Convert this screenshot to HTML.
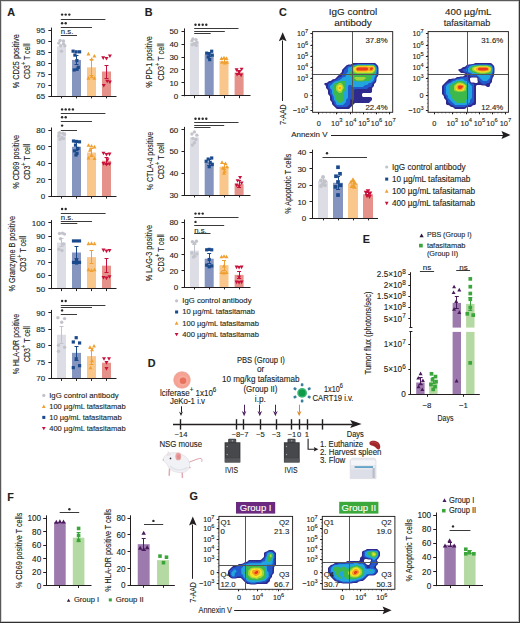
<!DOCTYPE html>
<html><head><meta charset="utf-8"><title>Figure</title>
<style>html,body{margin:0;padding:0;background:#fff;}body{width:520px;height:623px;overflow:hidden;font-family:"Liberation Sans",sans-serif;}svg{display:block;}</style>
</head><body>
<svg width="520" height="623" viewBox="0 0 520 623" font-family="'Liberation Sans', sans-serif" fill="#231f20"><style>text{stroke:#231f20;stroke-width:0.12}</style><rect x="0" y="0" width="520" height="623" fill="#fff"/><text x="7.2" y="16.19" font-size="10.8" font-weight="bold">A</text><text x="144.8" y="15.79" font-size="10.8" font-weight="bold">B</text><text x="279" y="16.09" font-size="10.8" font-weight="bold">C</text><text x="362.8" y="242.99" font-size="10.8" font-weight="bold">E</text><text x="147.8" y="366.89" font-size="10.8" font-weight="bold">D</text><text x="7.3" y="500.89" font-size="10.8" font-weight="bold">F</text><text x="189.4" y="499.89" font-size="10.8" font-weight="bold">G</text><rect x="57" y="46.36" width="9" height="49.64" fill="#dcdde5" /><rect x="72" y="59.92" width="9" height="36.08" fill="#8595bf" /><rect x="87" y="67.35" width="9" height="28.65" fill="#f9c78c" /><rect x="102" y="71.51" width="9" height="24.49" fill="#e5928a" /><circle cx="60.1" cy="40.46" r="1.7" fill="#c2c3cb"/><circle cx="63.5" cy="40.9" r="1.7" fill="#c2c3cb"/><circle cx="58.7" cy="43.08" r="1.7" fill="#c2c3cb"/><circle cx="63.5" cy="43.74" r="1.7" fill="#c2c3cb"/><circle cx="60.8" cy="45.71" r="1.7" fill="#c2c3cb"/><circle cx="64.8" cy="45.71" r="1.7" fill="#c2c3cb"/><circle cx="61.5" cy="51.17" r="1.7" fill="#c2c3cb"/><line x1="76.5" y1="55.33" x2="76.5" y2="64.73" stroke="#1b4a8c" stroke-width="1" /><line x1="74.5" y1="55.5" x2="78.5" y2="55.5" stroke="#1b4a8c" stroke-width="1" /><line x1="74.5" y1="64.5" x2="78.5" y2="64.5" stroke="#1b4a8c" stroke-width="1" /><rect x="71.5" y="49.57" width="3.2" height="3.2" fill="#1b4a8c" /><rect x="74.6" y="50.23" width="3.2" height="3.2" fill="#1b4a8c" /><rect x="78" y="50.23" width="3.2" height="3.2" fill="#1b4a8c" /><rect x="73.3" y="53.51" width="3.2" height="3.2" fill="#1b4a8c" /><rect x="75.3" y="58.98" width="3.2" height="3.2" fill="#1b4a8c" /><rect x="76.7" y="65.75" width="3.2" height="3.2" fill="#1b4a8c" /><rect x="72.6" y="68.38" width="3.2" height="3.2" fill="#1b4a8c" /><rect x="75.5" y="67.72" width="3.2" height="3.2" fill="#1b4a8c" /><line x1="91.5" y1="59.92" x2="91.5" y2="75.01" stroke="#f0a030" stroke-width="1" /><line x1="89.5" y1="59.5" x2="93.5" y2="59.5" stroke="#f0a030" stroke-width="1" /><line x1="89.5" y1="75.5" x2="93.5" y2="75.5" stroke="#f0a030" stroke-width="1" /><path d="M88.4 51.8L90.4 55.4L86.4 55.4Z" fill="#f0a030"/><path d="M94.4 53.98L96.4 57.58L92.4 57.58Z" fill="#f0a030"/><path d="M91.7 57.26L93.7 60.86L89.7 60.86Z" fill="#f0a030"/><path d="M88.4 76.07L90.4 79.67L86.4 79.67Z" fill="#f0a030"/><path d="M91.7 74.76L93.7 78.36L89.7 78.36Z" fill="#f0a030"/><path d="M94.4 76.07L96.4 79.67L92.4 79.67Z" fill="#f0a030"/><line x1="106.5" y1="65.39" x2="106.5" y2="78.07" stroke="#c8103c" stroke-width="1" /><line x1="104.5" y1="65.5" x2="108.5" y2="65.5" stroke="#c8103c" stroke-width="1" /><line x1="104.5" y1="78.5" x2="108.5" y2="78.5" stroke="#c8103c" stroke-width="1" /><path d="M103.2 59.95L105.2 56.35L101.2 56.35Z" fill="#c8103c"/><path d="M106.5 60.61L108.5 57.01L104.5 57.01Z" fill="#c8103c"/><path d="M109.9 57.98L111.9 54.38L107.9 54.38Z" fill="#c8103c"/><path d="M103.8 87.5L105.8 83.9L101.8 83.9Z" fill="#c8103c"/><path d="M107.2 83.35L109.2 79.75L105.2 79.75Z" fill="#c8103c"/><path d="M109.9 84.01L111.9 80.41L107.9 80.41Z" fill="#c8103c"/><line x1="51.5" y1="27.6" x2="51.5" y2="96.45" stroke="#231f20" stroke-width="1" /><line x1="50.9" y1="96.5" x2="116.5" y2="96.5" stroke="#231f20" stroke-width="1" /><line x1="48.35" y1="96.5" x2="51.35" y2="96.5" stroke="#231f20" stroke-width="1" /><text x="45.15" y="98.88" font-size="8" text-anchor="end">65</text><line x1="48.35" y1="85.5" x2="51.35" y2="85.5" stroke="#231f20" stroke-width="1" /><text x="45.15" y="87.95" font-size="8" text-anchor="end">70</text><line x1="48.35" y1="74.5" x2="51.35" y2="74.5" stroke="#231f20" stroke-width="1" /><text x="45.15" y="77.01" font-size="8" text-anchor="end">75</text><line x1="48.35" y1="63.5" x2="51.35" y2="63.5" stroke="#231f20" stroke-width="1" /><text x="45.15" y="66.08" font-size="8" text-anchor="end">80</text><line x1="48.35" y1="52.5" x2="51.35" y2="52.5" stroke="#231f20" stroke-width="1" /><text x="45.15" y="55.15" font-size="8" text-anchor="end">85</text><line x1="48.35" y1="41.5" x2="51.35" y2="41.5" stroke="#231f20" stroke-width="1" /><text x="45.15" y="44.21" font-size="8" text-anchor="end">90</text><line x1="48.35" y1="30.5" x2="51.35" y2="30.5" stroke="#231f20" stroke-width="1" /><text x="45.15" y="33.28" font-size="8" text-anchor="end">95</text><line x1="61.5" y1="96" x2="61.5" y2="98.4" stroke="#231f20" stroke-width="1" /><line x1="76.5" y1="96" x2="76.5" y2="98.4" stroke="#231f20" stroke-width="1" /><line x1="91.5" y1="96" x2="91.5" y2="98.4" stroke="#231f20" stroke-width="1" /><line x1="106.5" y1="96" x2="106.5" y2="98.4" stroke="#231f20" stroke-width="1" /><line x1="60.8" y1="19.5" x2="105.4" y2="19.5" stroke="#3a3a3a" stroke-width="1" /><circle cx="62.1" cy="14.6" r="1.2" fill="#2a2a2a"/><circle cx="65.7" cy="14.6" r="1.2" fill="#2a2a2a"/><circle cx="69.3" cy="14.6" r="1.2" fill="#2a2a2a"/><line x1="60.8" y1="27.5" x2="92" y2="27.5" stroke="#3a3a3a" stroke-width="1" /><circle cx="62.1" cy="23.2" r="1.2" fill="#2a2a2a"/><circle cx="65.7" cy="23.2" r="1.2" fill="#2a2a2a"/><line x1="60.8" y1="35.5" x2="77" y2="35.5" stroke="#3a3a3a" stroke-width="1" /><text x="60.8" y="33.85" font-size="7.8">n.s.</text><text transform="translate(16.2 61.3) rotate(-90)" x="0" y="2.3" font-size="8.2" text-anchor="middle" textLength="54" lengthAdjust="spacingAndGlyphs">% CD25 positive</text><text transform="translate(27.3 61.3) rotate(-90)" x="0" y="2.3" font-size="8.2" text-anchor="middle" textLength="35.5" lengthAdjust="spacingAndGlyphs">CD3<tspan dy="-3.44" font-size="6.4">+</tspan><tspan dy="3.44"> T cell</tspan></text><rect x="57" y="131.95" width="9" height="64.25" fill="#dcdde5" /><rect x="72" y="146.78" width="9" height="49.42" fill="#8595bf" /><rect x="87" y="152.54" width="9" height="43.66" fill="#f9c78c" /><rect x="102" y="160.78" width="9" height="35.42" fill="#e5928a" /><circle cx="59.5" cy="132.77" r="1.7" fill="#c2c3cb"/><circle cx="63" cy="133.18" r="1.7" fill="#c2c3cb"/><circle cx="64.5" cy="134.42" r="1.7" fill="#c2c3cb"/><circle cx="59" cy="136.07" r="1.7" fill="#c2c3cb"/><circle cx="62" cy="137.71" r="1.7" fill="#c2c3cb"/><circle cx="60" cy="139.36" r="1.7" fill="#c2c3cb"/><circle cx="63.5" cy="138.54" r="1.7" fill="#c2c3cb"/><line x1="76.5" y1="142.66" x2="76.5" y2="150.89" stroke="#1b4a8c" stroke-width="1" /><line x1="74.5" y1="142.5" x2="78.5" y2="142.5" stroke="#1b4a8c" stroke-width="1" /><line x1="74.5" y1="150.5" x2="78.5" y2="150.5" stroke="#1b4a8c" stroke-width="1" /><rect x="71.9" y="139.41" width="3.2" height="3.2" fill="#1b4a8c" /><rect x="74.9" y="139.82" width="3.2" height="3.2" fill="#1b4a8c" /><rect x="77.9" y="140.23" width="3.2" height="3.2" fill="#1b4a8c" /><rect x="73.9" y="143.53" width="3.2" height="3.2" fill="#1b4a8c" /><rect x="76.4" y="146.82" width="3.2" height="3.2" fill="#1b4a8c" /><rect x="72.9" y="149.29" width="3.2" height="3.2" fill="#1b4a8c" /><rect x="75.4" y="151.77" width="3.2" height="3.2" fill="#1b4a8c" /><rect x="74.4" y="153.41" width="3.2" height="3.2" fill="#1b4a8c" /><line x1="91.5" y1="148.42" x2="91.5" y2="156.66" stroke="#f0a030" stroke-width="1" /><line x1="89.5" y1="148.5" x2="93.5" y2="148.5" stroke="#f0a030" stroke-width="1" /><line x1="89.5" y1="156.5" x2="93.5" y2="156.5" stroke="#f0a030" stroke-width="1" /><path d="M88.5 143.13L90.5 146.73L86.5 146.73Z" fill="#f0a030"/><path d="M91.5 143.95L93.5 147.55L89.5 147.55Z" fill="#f0a030"/><path d="M94.5 144.78L96.5 148.38L92.5 148.38Z" fill="#f0a030"/><path d="M90 148.07L92 151.67L88 151.67Z" fill="#f0a030"/><path d="M91.5 153.01L93.5 156.61L89.5 156.61Z" fill="#f0a030"/><path d="M88.5 155.9L90.5 159.5L86.5 159.5Z" fill="#f0a030"/><path d="M94.5 156.31L96.5 159.91L92.5 159.91Z" fill="#f0a030"/><line x1="106.5" y1="157.48" x2="106.5" y2="164.07" stroke="#c8103c" stroke-width="1" /><line x1="104.5" y1="157.5" x2="108.5" y2="157.5" stroke="#c8103c" stroke-width="1" /><line x1="104.5" y1="164.5" x2="108.5" y2="164.5" stroke="#c8103c" stroke-width="1" /><path d="M103.5 155.37L105.5 151.77L101.5 151.77Z" fill="#c8103c"/><path d="M106.5 156.6L108.5 153L104.5 153Z" fill="#c8103c"/><path d="M109.5 156.19L111.5 152.59L107.5 152.59Z" fill="#c8103c"/><path d="M107.5 161.95L109.5 158.35L105.5 158.35Z" fill="#c8103c"/><path d="M103.5 165.66L105.5 162.06L101.5 162.06Z" fill="#c8103c"/><path d="M106.5 166.49L108.5 162.89L104.5 162.89Z" fill="#c8103c"/><path d="M109.5 166.07L111.5 162.47L107.5 162.47Z" fill="#c8103c"/><line x1="51.5" y1="127.5" x2="51.5" y2="196.65" stroke="#231f20" stroke-width="1" /><line x1="50.9" y1="196.5" x2="116.5" y2="196.5" stroke="#231f20" stroke-width="1" /><line x1="48.35" y1="196.5" x2="51.35" y2="196.5" stroke="#231f20" stroke-width="1" /><text x="45.15" y="199.08" font-size="8" text-anchor="end">0</text><line x1="48.35" y1="179.5" x2="51.35" y2="179.5" stroke="#231f20" stroke-width="1" /><text x="45.15" y="182.6" font-size="8" text-anchor="end">20</text><line x1="48.35" y1="163.5" x2="51.35" y2="163.5" stroke="#231f20" stroke-width="1" /><text x="45.15" y="166.13" font-size="8" text-anchor="end">40</text><line x1="48.35" y1="146.5" x2="51.35" y2="146.5" stroke="#231f20" stroke-width="1" /><text x="45.15" y="149.66" font-size="8" text-anchor="end">60</text><line x1="48.35" y1="130.5" x2="51.35" y2="130.5" stroke="#231f20" stroke-width="1" /><text x="45.15" y="133.18" font-size="8" text-anchor="end">80</text><line x1="61.5" y1="196.2" x2="61.5" y2="198.6" stroke="#231f20" stroke-width="1" /><line x1="76.5" y1="196.2" x2="76.5" y2="198.6" stroke="#231f20" stroke-width="1" /><line x1="91.5" y1="196.2" x2="91.5" y2="198.6" stroke="#231f20" stroke-width="1" /><line x1="106.5" y1="196.2" x2="106.5" y2="198.6" stroke="#231f20" stroke-width="1" /><line x1="60.8" y1="113.5" x2="105.4" y2="113.5" stroke="#3a3a3a" stroke-width="1" /><circle cx="62.1" cy="109.4" r="1.2" fill="#2a2a2a"/><circle cx="65.7" cy="109.4" r="1.2" fill="#2a2a2a"/><circle cx="69.3" cy="109.4" r="1.2" fill="#2a2a2a"/><circle cx="72.9" cy="109.4" r="1.2" fill="#2a2a2a"/><line x1="60.8" y1="121.5" x2="92" y2="121.5" stroke="#3a3a3a" stroke-width="1" /><circle cx="62.1" cy="117.2" r="1.2" fill="#2a2a2a"/><circle cx="65.7" cy="117.2" r="1.2" fill="#2a2a2a"/><line x1="60.8" y1="130.5" x2="77" y2="130.5" stroke="#3a3a3a" stroke-width="1" /><circle cx="62.1" cy="125.6" r="1.2" fill="#2a2a2a"/><text transform="translate(16.2 161.8) rotate(-90)" x="0" y="2.3" font-size="8.2" text-anchor="middle" textLength="53.7" lengthAdjust="spacingAndGlyphs">% CD69 positive</text><text transform="translate(27.6 161.8) rotate(-90)" x="0" y="2.3" font-size="8.2" text-anchor="middle" textLength="36" lengthAdjust="spacingAndGlyphs">CD3<tspan dy="-3.44" font-size="6.4">+</tspan><tspan dy="3.44"> T cell</tspan></text><rect x="57" y="242.64" width="9" height="46.06" fill="#dcdde5" /><rect x="72" y="252.51" width="9" height="36.19" fill="#8595bf" /><rect x="87" y="257.12" width="9" height="31.58" fill="#f9c78c" /><rect x="102" y="265.67" width="9" height="23.03" fill="#e5928a" /><line x1="61.5" y1="238.3" x2="61.5" y2="246.98" stroke="#c2c3cb" stroke-width="1" /><line x1="59.5" y1="238.5" x2="63.5" y2="238.5" stroke="#c2c3cb" stroke-width="1" /><line x1="59.5" y1="246.5" x2="63.5" y2="246.5" stroke="#c2c3cb" stroke-width="1" /><circle cx="59.5" cy="233.43" r="1.7" fill="#c2c3cb"/><circle cx="62.5" cy="233.16" r="1.7" fill="#c2c3cb"/><circle cx="64.5" cy="234.09" r="1.7" fill="#c2c3cb"/><circle cx="60.5" cy="238.69" r="1.7" fill="#c2c3cb"/><circle cx="63.5" cy="243.96" r="1.7" fill="#c2c3cb"/><circle cx="59" cy="249.22" r="1.7" fill="#c2c3cb"/><circle cx="62" cy="250.54" r="1.7" fill="#c2c3cb"/><line x1="76.5" y1="246.98" x2="76.5" y2="258.43" stroke="#1b4a8c" stroke-width="1" /><line x1="74.5" y1="246.5" x2="78.5" y2="246.5" stroke="#1b4a8c" stroke-width="1" /><line x1="74.5" y1="258.5" x2="78.5" y2="258.5" stroke="#1b4a8c" stroke-width="1" /><rect x="71.9" y="239.33" width="3.2" height="3.2" fill="#1b4a8c" /><rect x="74.9" y="239.33" width="3.2" height="3.2" fill="#1b4a8c" /><rect x="77.9" y="239.33" width="3.2" height="3.2" fill="#1b4a8c" /><rect x="71.9" y="260.78" width="3.2" height="3.2" fill="#1b4a8c" /><rect x="74.9" y="258.81" width="3.2" height="3.2" fill="#1b4a8c" /><rect x="77.9" y="260.78" width="3.2" height="3.2" fill="#1b4a8c" /><rect x="74.9" y="261.44" width="3.2" height="3.2" fill="#1b4a8c" /><line x1="91.5" y1="250.54" x2="91.5" y2="263.7" stroke="#f0a030" stroke-width="1" /><line x1="89.5" y1="250.5" x2="93.5" y2="250.5" stroke="#f0a030" stroke-width="1" /><line x1="89.5" y1="263.5" x2="93.5" y2="263.5" stroke="#f0a030" stroke-width="1" /><path d="M88.5 241.56L90.5 245.16L86.5 245.16Z" fill="#f0a030"/><path d="M91.5 241.3L93.5 244.9L89.5 244.9Z" fill="#f0a030"/><path d="M94.5 241.56L96.5 245.16L92.5 245.16Z" fill="#f0a030"/><path d="M88.5 267.62L90.5 271.22L86.5 271.22Z" fill="#f0a030"/><path d="M91.5 268.28L93.5 271.88L89.5 271.88Z" fill="#f0a030"/><path d="M94.5 267.62L96.5 271.22L92.5 271.22Z" fill="#f0a030"/><line x1="106.5" y1="258.43" x2="106.5" y2="272.91" stroke="#c8103c" stroke-width="1" /><line x1="104.5" y1="258.5" x2="108.5" y2="258.5" stroke="#c8103c" stroke-width="1" /><line x1="104.5" y1="272.5" x2="108.5" y2="272.5" stroke="#c8103c" stroke-width="1" /><path d="M103.5 252.14L105.5 248.54L101.5 248.54Z" fill="#c8103c"/><path d="M106.5 253.19L108.5 249.59L104.5 249.59Z" fill="#c8103c"/><path d="M109.5 252.54L111.5 248.94L107.5 248.94Z" fill="#c8103c"/><path d="M103.5 279.51L105.5 275.91L101.5 275.91Z" fill="#c8103c"/><path d="M106.5 280.17L108.5 276.57L104.5 276.57Z" fill="#c8103c"/><path d="M109.5 278.86L111.5 275.26L107.5 275.26Z" fill="#c8103c"/><line x1="51.5" y1="220.1" x2="51.5" y2="289.15" stroke="#231f20" stroke-width="1" /><line x1="50.9" y1="288.5" x2="116.5" y2="288.5" stroke="#231f20" stroke-width="1" /><line x1="48.35" y1="288.5" x2="51.35" y2="288.5" stroke="#231f20" stroke-width="1" /><text x="45.15" y="291.58" font-size="8" text-anchor="end">50</text><line x1="48.35" y1="275.5" x2="51.35" y2="275.5" stroke="#231f20" stroke-width="1" /><text x="45.15" y="278.42" font-size="8" text-anchor="end">60</text><line x1="48.35" y1="262.5" x2="51.35" y2="262.5" stroke="#231f20" stroke-width="1" /><text x="45.15" y="265.26" font-size="8" text-anchor="end">70</text><line x1="48.35" y1="249.5" x2="51.35" y2="249.5" stroke="#231f20" stroke-width="1" /><text x="45.15" y="252.1" font-size="8" text-anchor="end">80</text><line x1="48.35" y1="236.5" x2="51.35" y2="236.5" stroke="#231f20" stroke-width="1" /><text x="45.15" y="238.94" font-size="8" text-anchor="end">90</text><line x1="48.35" y1="222.5" x2="51.35" y2="222.5" stroke="#231f20" stroke-width="1" /><text x="45.15" y="225.78" font-size="8" text-anchor="end">100</text><line x1="61.5" y1="288.7" x2="61.5" y2="291.1" stroke="#231f20" stroke-width="1" /><line x1="76.5" y1="288.7" x2="76.5" y2="291.1" stroke="#231f20" stroke-width="1" /><line x1="91.5" y1="288.7" x2="91.5" y2="291.1" stroke="#231f20" stroke-width="1" /><line x1="106.5" y1="288.7" x2="106.5" y2="291.1" stroke="#231f20" stroke-width="1" /><line x1="60.8" y1="213.5" x2="105.6" y2="213.5" stroke="#3a3a3a" stroke-width="1" /><circle cx="62.1" cy="209" r="1.2" fill="#2a2a2a"/><circle cx="65.7" cy="209" r="1.2" fill="#2a2a2a"/><line x1="60.8" y1="221.5" x2="92" y2="221.5" stroke="#3a3a3a" stroke-width="1" /><text x="60.8" y="219.65" font-size="7.8">n.s.</text><line x1="60.8" y1="223.5" x2="77.3" y2="223.5" stroke="#3a3a3a" stroke-width="1" /><text transform="translate(12.2 253.8) rotate(-90)" x="0" y="2.3" font-size="8.2" text-anchor="middle" textLength="75.5" lengthAdjust="spacingAndGlyphs">% Granzyme B positive</text><text transform="translate(23.4 253.8) rotate(-90)" x="0" y="2.3" font-size="8.2" text-anchor="middle" textLength="36" lengthAdjust="spacingAndGlyphs">CD3<tspan dy="-3.44" font-size="6.4">+</tspan><tspan dy="3.44"> T cell</tspan></text><rect x="57" y="334.74" width="9" height="43.76" fill="#dcdde5" /><rect x="72" y="352.84" width="9" height="25.66" fill="#8595bf" /><rect x="87" y="356.13" width="9" height="22.37" fill="#f9c78c" /><rect x="102" y="362.71" width="9" height="15.79" fill="#e5928a" /><line x1="61.5" y1="326.85" x2="61.5" y2="343.95" stroke="#c2c3cb" stroke-width="1" /><line x1="59.5" y1="326.5" x2="63.5" y2="326.5" stroke="#c2c3cb" stroke-width="1" /><line x1="59.5" y1="343.5" x2="63.5" y2="343.5" stroke="#c2c3cb" stroke-width="1" /><circle cx="57.9" cy="317.63" r="1.7" fill="#c2c3cb"/><circle cx="64.6" cy="318.62" r="1.7" fill="#c2c3cb"/><circle cx="61.7" cy="322.24" r="1.7" fill="#c2c3cb"/><circle cx="58.5" cy="345.27" r="1.7" fill="#c2c3cb"/><circle cx="64.6" cy="347.25" r="1.7" fill="#c2c3cb"/><circle cx="58.5" cy="351.19" r="1.7" fill="#c2c3cb"/><line x1="76.5" y1="346.92" x2="76.5" y2="360.4" stroke="#1b4a8c" stroke-width="1" /><line x1="74.5" y1="346.5" x2="78.5" y2="346.5" stroke="#1b4a8c" stroke-width="1" /><line x1="74.5" y1="360.5" x2="78.5" y2="360.5" stroke="#1b4a8c" stroke-width="1" /><rect x="74.6" y="336.1" width="3.2" height="3.2" fill="#1b4a8c" /><rect x="71.7" y="340.38" width="3.2" height="3.2" fill="#1b4a8c" /><rect x="78" y="341.37" width="3.2" height="3.2" fill="#1b4a8c" /><rect x="74.6" y="357.16" width="3.2" height="3.2" fill="#1b4a8c" /><rect x="71.7" y="366.04" width="3.2" height="3.2" fill="#1b4a8c" /><rect x="78" y="364.07" width="3.2" height="3.2" fill="#1b4a8c" /><line x1="91.5" y1="348.89" x2="91.5" y2="364.68" stroke="#f0a030" stroke-width="1" /><line x1="89.5" y1="348.5" x2="93.5" y2="348.5" stroke="#f0a030" stroke-width="1" /><line x1="89.5" y1="364.5" x2="93.5" y2="364.5" stroke="#f0a030" stroke-width="1" /><path d="M90 345.25L92 348.85L88 348.85Z" fill="#f0a030"/><path d="M94 343.93L96 347.53L92 347.53Z" fill="#f0a030"/><path d="M92 347.55L94 351.15L90 351.15Z" fill="#f0a030"/><path d="M92 358.73L94 362.33L90 362.33Z" fill="#f0a030"/><path d="M90.5 365.64L92.5 369.24L88.5 369.24Z" fill="#f0a030"/><path d="M104 360.76L106 357.16L102 357.16Z" fill="#c8103c"/><path d="M109 360.76L111 357.16L107 357.16Z" fill="#c8103c"/><path d="M106.5 364.71L108.5 361.11L104.5 361.11Z" fill="#c8103c"/><path d="M106.5 370.63L108.5 367.03L104.5 367.03Z" fill="#c8103c"/><line x1="51.5" y1="309.9" x2="51.5" y2="378.95" stroke="#231f20" stroke-width="1" /><line x1="50.9" y1="378.5" x2="116.5" y2="378.5" stroke="#231f20" stroke-width="1" /><line x1="48.35" y1="378.5" x2="51.35" y2="378.5" stroke="#231f20" stroke-width="1" /><text x="45.15" y="381.38" font-size="8" text-anchor="end">70</text><line x1="48.35" y1="362.5" x2="51.35" y2="362.5" stroke="#231f20" stroke-width="1" /><text x="45.15" y="364.93" font-size="8" text-anchor="end">75</text><line x1="48.35" y1="345.5" x2="51.35" y2="345.5" stroke="#231f20" stroke-width="1" /><text x="45.15" y="348.48" font-size="8" text-anchor="end">80</text><line x1="48.35" y1="329.5" x2="51.35" y2="329.5" stroke="#231f20" stroke-width="1" /><text x="45.15" y="332.03" font-size="8" text-anchor="end">85</text><line x1="48.35" y1="312.5" x2="51.35" y2="312.5" stroke="#231f20" stroke-width="1" /><text x="45.15" y="315.58" font-size="8" text-anchor="end">90</text><line x1="61.5" y1="378.5" x2="61.5" y2="380.9" stroke="#231f20" stroke-width="1" /><line x1="76.5" y1="378.5" x2="76.5" y2="380.9" stroke="#231f20" stroke-width="1" /><line x1="91.5" y1="378.5" x2="91.5" y2="380.9" stroke="#231f20" stroke-width="1" /><line x1="106.5" y1="378.5" x2="106.5" y2="380.9" stroke="#231f20" stroke-width="1" /><line x1="60.8" y1="305.5" x2="105.4" y2="305.5" stroke="#3a3a3a" stroke-width="1" /><circle cx="62.1" cy="301" r="1.2" fill="#2a2a2a"/><circle cx="65.7" cy="301" r="1.2" fill="#2a2a2a"/><line x1="60.8" y1="307.5" x2="92" y2="307.5" stroke="#3a3a3a" stroke-width="1" /><line x1="60.8" y1="314.5" x2="77" y2="314.5" stroke="#3a3a3a" stroke-width="1" /><circle cx="62.1" cy="310.4" r="1.2" fill="#2a2a2a"/><text transform="translate(16.2 344.1) rotate(-90)" x="0" y="2.3" font-size="8.2" text-anchor="middle" textLength="60.3" lengthAdjust="spacingAndGlyphs">% HLA-DR positive</text><text transform="translate(27.3 344.1) rotate(-90)" x="0" y="2.3" font-size="8.2" text-anchor="middle" textLength="36" lengthAdjust="spacingAndGlyphs">CD3<tspan dy="-3.44" font-size="6.4">+</tspan><tspan dy="3.44"> T cell</tspan></text><circle cx="43.8" cy="395.4" r="1.61" fill="#c2c3cb"/><text x="49.2" y="397.74" font-size="7.8" textLength="69.4" lengthAdjust="spacingAndGlyphs">IgG control antibody</text><path d="M43.8 404.5L45.7 407.92L41.9 407.92Z" fill="#f0a030"/><text x="49.2" y="408.74" font-size="7.8" textLength="76.5" lengthAdjust="spacingAndGlyphs">100 µg/mL tafasitamab</text><rect x="42.28" y="415.88" width="3.04" height="3.04" fill="#1b4a8c" /><text x="49.2" y="419.74" font-size="7.8" textLength="72.5" lengthAdjust="spacingAndGlyphs">10 µg/mL tafasitamab</text><path d="M43.8 430.3L45.7 426.88L41.9 426.88Z" fill="#c8103c"/><text x="49.2" y="430.74" font-size="7.8" textLength="76.5" lengthAdjust="spacingAndGlyphs">400 µg/mL tafasitamab</text><rect x="189.9" y="42.83" width="9" height="52.97" fill="#dcdde5" /><rect x="204.7" y="54.46" width="9" height="41.34" fill="#8595bf" /><rect x="219.5" y="60.92" width="9" height="34.88" fill="#f9c78c" /><rect x="234.6" y="72.54" width="9" height="23.26" fill="#e5928a" /><circle cx="192.9" cy="38.95" r="1.7" fill="#c2c3cb"/><circle cx="195.9" cy="39.6" r="1.7" fill="#c2c3cb"/><circle cx="191.9" cy="40.89" r="1.7" fill="#c2c3cb"/><circle cx="196.9" cy="42.18" r="1.7" fill="#c2c3cb"/><circle cx="194.4" cy="43.47" r="1.7" fill="#c2c3cb"/><circle cx="192.4" cy="44.77" r="1.7" fill="#c2c3cb"/><circle cx="196.2" cy="45.41" r="1.7" fill="#c2c3cb"/><line x1="209.5" y1="52.52" x2="209.5" y2="56.39" stroke="#1b4a8c" stroke-width="1" /><line x1="207.2" y1="52.5" x2="211.2" y2="52.5" stroke="#1b4a8c" stroke-width="1" /><line x1="207.2" y1="56.5" x2="211.2" y2="56.5" stroke="#1b4a8c" stroke-width="1" /><rect x="210.1" y="49.63" width="3.2" height="3.2" fill="#1b4a8c" /><rect x="205.1" y="51.56" width="3.2" height="3.2" fill="#1b4a8c" /><rect x="207.6" y="52.21" width="3.2" height="3.2" fill="#1b4a8c" /><rect x="210.6" y="53.5" width="3.2" height="3.2" fill="#1b4a8c" /><rect x="206.6" y="55.44" width="3.2" height="3.2" fill="#1b4a8c" /><rect x="208.1" y="58.02" width="3.2" height="3.2" fill="#1b4a8c" /><line x1="224.5" y1="58.98" x2="224.5" y2="62.85" stroke="#f0a030" stroke-width="1" /><line x1="222" y1="58.5" x2="226" y2="58.5" stroke="#f0a030" stroke-width="1" /><line x1="222" y1="62.5" x2="226" y2="62.5" stroke="#f0a030" stroke-width="1" /><path d="M221.5 56.33L223.5 59.93L219.5 59.93Z" fill="#f0a030"/><path d="M224 55.69L226 59.29L222 59.29Z" fill="#f0a030"/><path d="M226.5 56.33L228.5 59.93L224.5 59.93Z" fill="#f0a030"/><path d="M222 60.21L224 63.81L220 63.81Z" fill="#f0a030"/><path d="M225 60.85L227 64.45L223 64.45Z" fill="#f0a030"/><path d="M227 60.21L229 63.81L225 63.81Z" fill="#f0a030"/><line x1="239.5" y1="70.61" x2="239.5" y2="74.48" stroke="#c8103c" stroke-width="1" /><line x1="237.1" y1="70.5" x2="241.1" y2="70.5" stroke="#c8103c" stroke-width="1" /><line x1="237.1" y1="74.5" x2="241.1" y2="74.5" stroke="#c8103c" stroke-width="1" /><path d="M236.6 71.96L238.6 68.36L234.6 68.36Z" fill="#c8103c"/><path d="M241.6 71.31L243.6 67.71L239.6 67.71Z" fill="#c8103c"/><path d="M239.1 74.54L241.1 70.94L237.1 70.94Z" fill="#c8103c"/><path d="M237.1 76.48L239.1 72.88L235.1 72.88Z" fill="#c8103c"/><path d="M241.1 77.13L243.1 73.53L239.1 73.53Z" fill="#c8103c"/><line x1="184.5" y1="28.4" x2="184.5" y2="96.25" stroke="#231f20" stroke-width="1" /><line x1="184.05" y1="95.5" x2="250.5" y2="95.5" stroke="#231f20" stroke-width="1" /><line x1="181.5" y1="95.5" x2="184.5" y2="95.5" stroke="#231f20" stroke-width="1" /><text x="178.3" y="98.68" font-size="8" text-anchor="end">0</text><line x1="181.5" y1="82.5" x2="184.5" y2="82.5" stroke="#231f20" stroke-width="1" /><text x="178.3" y="85.76" font-size="8" text-anchor="end">10</text><line x1="181.5" y1="69.5" x2="184.5" y2="69.5" stroke="#231f20" stroke-width="1" /><text x="178.3" y="72.84" font-size="8" text-anchor="end">20</text><line x1="181.5" y1="57.5" x2="184.5" y2="57.5" stroke="#231f20" stroke-width="1" /><text x="178.3" y="59.92" font-size="8" text-anchor="end">30</text><line x1="181.5" y1="44.5" x2="184.5" y2="44.5" stroke="#231f20" stroke-width="1" /><text x="178.3" y="47" font-size="8" text-anchor="end">40</text><line x1="181.5" y1="31.5" x2="184.5" y2="31.5" stroke="#231f20" stroke-width="1" /><text x="178.3" y="34.08" font-size="8" text-anchor="end">50</text><line x1="194.5" y1="95.8" x2="194.5" y2="98.2" stroke="#231f20" stroke-width="1" /><line x1="209.5" y1="95.8" x2="209.5" y2="98.2" stroke="#231f20" stroke-width="1" /><line x1="224.5" y1="95.8" x2="224.5" y2="98.2" stroke="#231f20" stroke-width="1" /><line x1="239.5" y1="95.8" x2="239.5" y2="98.2" stroke="#231f20" stroke-width="1" /><line x1="194.2" y1="28.5" x2="238.5" y2="28.5" stroke="#3a3a3a" stroke-width="1" /><circle cx="195.5" cy="24.7" r="1.2" fill="#2a2a2a"/><circle cx="199.1" cy="24.7" r="1.2" fill="#2a2a2a"/><circle cx="202.7" cy="24.7" r="1.2" fill="#2a2a2a"/><circle cx="206.3" cy="24.7" r="1.2" fill="#2a2a2a"/><line x1="194.2" y1="31.5" x2="224.8" y2="31.5" stroke="#3a3a3a" stroke-width="1" /><line x1="194.2" y1="33.5" x2="210.7" y2="33.5" stroke="#3a3a3a" stroke-width="1" /><text transform="translate(149.9 62) rotate(-90)" x="0" y="2.41" font-size="8.6" text-anchor="middle" textLength="51.7" lengthAdjust="spacingAndGlyphs">% PD-1 positive</text><text transform="translate(161.4 62) rotate(-90)" x="0" y="2.41" font-size="8.6" text-anchor="middle" textLength="37" lengthAdjust="spacingAndGlyphs">CD3<tspan dy="-3.61" font-size="6.71">+</tspan><tspan dy="3.61"> T cell</tspan></text><rect x="189.9" y="137.32" width="9" height="57.68" fill="#dcdde5" /><rect x="204.7" y="162.35" width="9" height="32.65" fill="#8595bf" /><rect x="219.5" y="166.7" width="9" height="28.3" fill="#f9c78c" /><rect x="234.6" y="184.12" width="9" height="10.88" fill="#e5928a" /><circle cx="194.4" cy="131.88" r="1.7" fill="#c2c3cb"/><circle cx="191.9" cy="134.05" r="1.7" fill="#c2c3cb"/><circle cx="196.9" cy="135.14" r="1.7" fill="#c2c3cb"/><circle cx="192.9" cy="138.41" r="1.7" fill="#c2c3cb"/><circle cx="195.9" cy="139.5" r="1.7" fill="#c2c3cb"/><circle cx="194.4" cy="142.76" r="1.7" fill="#c2c3cb"/><circle cx="192.4" cy="144.94" r="1.7" fill="#c2c3cb"/><line x1="209.5" y1="159.08" x2="209.5" y2="165.62" stroke="#1b4a8c" stroke-width="1" /><line x1="207.2" y1="159.5" x2="211.2" y2="159.5" stroke="#1b4a8c" stroke-width="1" /><line x1="207.2" y1="165.5" x2="211.2" y2="165.5" stroke="#1b4a8c" stroke-width="1" /><rect x="210.1" y="156.4" width="3.2" height="3.2" fill="#1b4a8c" /><rect x="206.6" y="157.48" width="3.2" height="3.2" fill="#1b4a8c" /><rect x="204.6" y="159.66" width="3.2" height="3.2" fill="#1b4a8c" /><rect x="208.6" y="160.75" width="3.2" height="3.2" fill="#1b4a8c" /><rect x="210.6" y="162.93" width="3.2" height="3.2" fill="#1b4a8c" /><rect x="207.6" y="165.1" width="3.2" height="3.2" fill="#1b4a8c" /><line x1="224.5" y1="163.44" x2="224.5" y2="169.97" stroke="#f0a030" stroke-width="1" /><line x1="222" y1="163.5" x2="226" y2="163.5" stroke="#f0a030" stroke-width="1" /><line x1="222" y1="169.5" x2="226" y2="169.5" stroke="#f0a030" stroke-width="1" /><path d="M222 160.35L224 163.95L220 163.95Z" fill="#f0a030"/><path d="M225.5 161.44L227.5 165.04L223.5 165.04Z" fill="#f0a030"/><path d="M227 164.7L229 168.3L225 168.3Z" fill="#f0a030"/><path d="M223 165.79L225 169.39L221 169.39Z" fill="#f0a030"/><path d="M224.5 169.06L226.5 172.66L222.5 172.66Z" fill="#f0a030"/><path d="M224 171.23L226 174.83L222 174.83Z" fill="#f0a030"/><line x1="239.5" y1="180.85" x2="239.5" y2="187.38" stroke="#c8103c" stroke-width="1" /><line x1="237.1" y1="180.5" x2="241.1" y2="180.5" stroke="#c8103c" stroke-width="1" /><line x1="237.1" y1="187.5" x2="241.1" y2="187.5" stroke="#c8103c" stroke-width="1" /><path d="M240.1 179.59L242.1 175.99L238.1 175.99Z" fill="#c8103c"/><path d="M237.6 182.85L239.6 179.25L235.6 179.25Z" fill="#c8103c"/><path d="M241.6 185.03L243.6 181.43L239.6 181.43Z" fill="#c8103c"/><path d="M236.6 187.21L238.6 183.61L234.6 183.61Z" fill="#c8103c"/><path d="M239.1 188.29L241.1 184.69L237.1 184.69Z" fill="#c8103c"/><line x1="184.5" y1="126.9" x2="184.5" y2="195.45" stroke="#231f20" stroke-width="1" /><line x1="184.05" y1="195.5" x2="250.5" y2="195.5" stroke="#231f20" stroke-width="1" /><line x1="181.5" y1="195.5" x2="184.5" y2="195.5" stroke="#231f20" stroke-width="1" /><text x="178.3" y="197.88" font-size="8" text-anchor="end">30</text><line x1="181.5" y1="173.5" x2="184.5" y2="173.5" stroke="#231f20" stroke-width="1" /><text x="178.3" y="176.11" font-size="8" text-anchor="end">40</text><line x1="181.5" y1="151.5" x2="184.5" y2="151.5" stroke="#231f20" stroke-width="1" /><text x="178.3" y="154.35" font-size="8" text-anchor="end">50</text><line x1="181.5" y1="129.5" x2="184.5" y2="129.5" stroke="#231f20" stroke-width="1" /><text x="178.3" y="132.58" font-size="8" text-anchor="end">60</text><line x1="194.5" y1="195" x2="194.5" y2="197.4" stroke="#231f20" stroke-width="1" /><line x1="209.5" y1="195" x2="209.5" y2="197.4" stroke="#231f20" stroke-width="1" /><line x1="224.5" y1="195" x2="224.5" y2="197.4" stroke="#231f20" stroke-width="1" /><line x1="239.5" y1="195" x2="239.5" y2="197.4" stroke="#231f20" stroke-width="1" /><line x1="194.2" y1="122.5" x2="238.5" y2="122.5" stroke="#3a3a3a" stroke-width="1" /><circle cx="195.5" cy="118.8" r="1.2" fill="#2a2a2a"/><circle cx="199.1" cy="118.8" r="1.2" fill="#2a2a2a"/><circle cx="202.7" cy="118.8" r="1.2" fill="#2a2a2a"/><circle cx="206.3" cy="118.8" r="1.2" fill="#2a2a2a"/><line x1="194.2" y1="125.5" x2="224.2" y2="125.5" stroke="#3a3a3a" stroke-width="1" /><line x1="194.2" y1="127.5" x2="210.5" y2="127.5" stroke="#3a3a3a" stroke-width="1" /><text transform="translate(150.1 161) rotate(-90)" x="0" y="2.41" font-size="8.6" text-anchor="middle" textLength="58.5" lengthAdjust="spacingAndGlyphs">% CTLA-4 positive</text><text transform="translate(161.2 161) rotate(-90)" x="0" y="2.41" font-size="8.6" text-anchor="middle" textLength="36.5" lengthAdjust="spacingAndGlyphs">CD3<tspan dy="-3.61" font-size="6.71">+</tspan><tspan dy="3.61"> T cell</tspan></text><rect x="189.9" y="250.61" width="9" height="36.39" fill="#dcdde5" /><rect x="204.7" y="258.69" width="9" height="28.31" fill="#8595bf" /><rect x="219.5" y="265.16" width="9" height="21.84" fill="#f9c78c" /><rect x="234.6" y="274.87" width="9" height="12.13" fill="#e5928a" /><line x1="194.5" y1="244.94" x2="194.5" y2="256.27" stroke="#c2c3cb" stroke-width="1" /><line x1="192.4" y1="244.5" x2="196.4" y2="244.5" stroke="#c2c3cb" stroke-width="1" /><line x1="192.4" y1="256.5" x2="196.4" y2="256.5" stroke="#c2c3cb" stroke-width="1" /><circle cx="192.4" cy="241.71" r="1.7" fill="#c2c3cb"/><circle cx="196.4" cy="241.31" r="1.7" fill="#c2c3cb"/><circle cx="194.4" cy="243.33" r="1.7" fill="#c2c3cb"/><circle cx="191.9" cy="253.03" r="1.7" fill="#c2c3cb"/><circle cx="196.9" cy="253.84" r="1.7" fill="#c2c3cb"/><circle cx="194.4" cy="256.27" r="1.7" fill="#c2c3cb"/><circle cx="193.4" cy="257.08" r="1.7" fill="#c2c3cb"/><line x1="209.5" y1="253.84" x2="209.5" y2="263.55" stroke="#1b4a8c" stroke-width="1" /><line x1="207.2" y1="253.5" x2="211.2" y2="253.5" stroke="#1b4a8c" stroke-width="1" /><line x1="207.2" y1="263.5" x2="211.2" y2="263.5" stroke="#1b4a8c" stroke-width="1" /><rect x="205.1" y="248.2" width="3.2" height="3.2" fill="#1b4a8c" /><rect x="207.6" y="247.79" width="3.2" height="3.2" fill="#1b4a8c" /><rect x="210.1" y="248.2" width="3.2" height="3.2" fill="#1b4a8c" /><rect x="207.6" y="257.9" width="3.2" height="3.2" fill="#1b4a8c" /><rect x="205.1" y="263.56" width="3.2" height="3.2" fill="#1b4a8c" /><rect x="210.1" y="264.37" width="3.2" height="3.2" fill="#1b4a8c" /><rect x="207.6" y="265.18" width="3.2" height="3.2" fill="#1b4a8c" /><line x1="224.5" y1="260.31" x2="224.5" y2="270.02" stroke="#f0a030" stroke-width="1" /><line x1="222" y1="260.5" x2="226" y2="260.5" stroke="#f0a030" stroke-width="1" /><line x1="222" y1="270.5" x2="226" y2="270.5" stroke="#f0a030" stroke-width="1" /><path d="M221.5 254.67L223.5 258.27L219.5 258.27Z" fill="#f0a030"/><path d="M224 254.27L226 257.87L222 257.87Z" fill="#f0a030"/><path d="M226.5 254.67L228.5 258.27L224.5 258.27Z" fill="#f0a030"/><path d="M224 263.97L226 267.57L222 267.57Z" fill="#f0a030"/><path d="M221.5 270.44L223.5 274.04L219.5 274.04Z" fill="#f0a030"/><path d="M226.5 270.44L228.5 274.04L224.5 274.04Z" fill="#f0a030"/><path d="M224 270.85L226 274.45L222 274.45Z" fill="#f0a030"/><line x1="239.5" y1="271.63" x2="239.5" y2="278.91" stroke="#c8103c" stroke-width="1" /><line x1="237.1" y1="271.5" x2="241.1" y2="271.5" stroke="#c8103c" stroke-width="1" /><line x1="237.1" y1="278.5" x2="241.1" y2="278.5" stroke="#c8103c" stroke-width="1" /><path d="M236.6 269.19L238.6 265.59L234.6 265.59Z" fill="#c8103c"/><path d="M239.1 269.59L241.1 265.99L237.1 265.99Z" fill="#c8103c"/><path d="M241.6 269.19L243.6 265.59L239.6 265.59Z" fill="#c8103c"/><path d="M239.1 279.3L241.1 275.69L237.1 275.69Z" fill="#c8103c"/><path d="M236.6 284.15L238.6 280.55L234.6 280.55Z" fill="#c8103c"/><path d="M241.6 284.15L243.6 280.55L239.6 280.55Z" fill="#c8103c"/><path d="M239.1 284.55L241.1 280.95L237.1 280.95Z" fill="#c8103c"/><line x1="184.5" y1="219.5" x2="184.5" y2="287.45" stroke="#231f20" stroke-width="1" /><line x1="184.05" y1="287.5" x2="250.5" y2="287.5" stroke="#231f20" stroke-width="1" /><line x1="181.5" y1="287.5" x2="184.5" y2="287.5" stroke="#231f20" stroke-width="1" /><text x="178.3" y="289.88" font-size="8" text-anchor="end">0</text><line x1="181.5" y1="270.5" x2="184.5" y2="270.5" stroke="#231f20" stroke-width="1" /><text x="178.3" y="273.7" font-size="8" text-anchor="end">20</text><line x1="181.5" y1="254.5" x2="184.5" y2="254.5" stroke="#231f20" stroke-width="1" /><text x="178.3" y="257.53" font-size="8" text-anchor="end">40</text><line x1="181.5" y1="238.5" x2="184.5" y2="238.5" stroke="#231f20" stroke-width="1" /><text x="178.3" y="241.36" font-size="8" text-anchor="end">60</text><line x1="181.5" y1="222.5" x2="184.5" y2="222.5" stroke="#231f20" stroke-width="1" /><text x="178.3" y="225.18" font-size="8" text-anchor="end">80</text><line x1="194.5" y1="287" x2="194.5" y2="289.4" stroke="#231f20" stroke-width="1" /><line x1="209.5" y1="287" x2="209.5" y2="289.4" stroke="#231f20" stroke-width="1" /><line x1="224.5" y1="287" x2="224.5" y2="289.4" stroke="#231f20" stroke-width="1" /><line x1="239.5" y1="287" x2="239.5" y2="289.4" stroke="#231f20" stroke-width="1" /><line x1="194.2" y1="217.5" x2="238.5" y2="217.5" stroke="#3a3a3a" stroke-width="1" /><circle cx="195.5" cy="213.6" r="1.2" fill="#2a2a2a"/><circle cx="199.1" cy="213.6" r="1.2" fill="#2a2a2a"/><circle cx="202.7" cy="213.6" r="1.2" fill="#2a2a2a"/><line x1="194.2" y1="225.5" x2="224.2" y2="225.5" stroke="#3a3a3a" stroke-width="1" /><circle cx="195.5" cy="221.9" r="1.2" fill="#2a2a2a"/><line x1="194.2" y1="233.5" x2="210.5" y2="233.5" stroke="#3a3a3a" stroke-width="1" /><text x="194.2" y="232.55" font-size="7.8">n.s.</text><text transform="translate(149.8 253.1) rotate(-90)" x="0" y="2.41" font-size="8.6" text-anchor="middle" textLength="56.2" lengthAdjust="spacingAndGlyphs">% LAG-3 positive</text><text transform="translate(161.3 253.1) rotate(-90)" x="0" y="2.41" font-size="8.6" text-anchor="middle" textLength="37.7" lengthAdjust="spacingAndGlyphs">CD3<tspan dy="-3.61" font-size="6.71">+</tspan><tspan dy="3.61"> T cell</tspan></text><circle cx="176.6" cy="300.8" r="1.61" fill="#c2c3cb"/><text x="182.3" y="303.14" font-size="7.8" textLength="69.2" lengthAdjust="spacingAndGlyphs">IgG control antibody</text><rect x="175.08" y="310.48" width="3.04" height="3.04" fill="#1b4a8c" /><text x="182.3" y="314.34" font-size="7.8" textLength="72.7" lengthAdjust="spacingAndGlyphs">10 µg/mL tafasitamab</text><path d="M176.6 321.3L178.5 324.72L174.7 324.72Z" fill="#f0a030"/><text x="182.3" y="325.54" font-size="7.8" textLength="76.7" lengthAdjust="spacingAndGlyphs">100 µg/mL tafasitamab</text><path d="M176.6 336.3L178.5 332.88L174.7 332.88Z" fill="#c8103c"/><text x="182.3" y="336.74" font-size="7.8" textLength="76.7" lengthAdjust="spacingAndGlyphs">400 µg/mL tafasitamab</text><text x="353" y="14.77" font-size="9.6" text-anchor="middle" textLength="48.5" lengthAdjust="spacingAndGlyphs">IgG control</text><text x="353" y="25.97" font-size="9.6" text-anchor="middle" textLength="37.7" lengthAdjust="spacingAndGlyphs">antibody</text><text x="468.3" y="14.77" font-size="9.6" text-anchor="middle" textLength="46.4" lengthAdjust="spacingAndGlyphs">400 µg/mL</text><text x="467" y="26.17" font-size="9.6" text-anchor="middle" textLength="46.5" lengthAdjust="spacingAndGlyphs">tafasitamab</text><clipPath id="fc1"><rect x="312.6" y="31.6" width="80.1" height="80.7"/></clipPath><g clip-path="url(#fc1)"><path d="M348.0 109.0L337.0 108.9L336.3 108.5L332.5 104.7L332.1 104.0L331.8 102.0L330.4 100.5L330.1 100.0L330.0 96.8L329.8 96.0L328.4 94.5L328.1 94.0L327.9 90.2L327.5 89.6L326.2 88.2L326.0 87.8L325.9 86.0L325.5 85.4L324.4 84.5L324.2 84.0L324.4 83.5L325.0 83.1L327.0 82.8L328.8 81.2L331.0 80.8L332.8 79.2L334.8 78.9L335.2 78.7L338.3 75.5L339.5 74.6L340.3 73.5L341.7 72.2L341.9 71.8L342.0 70.2L342.4 69.5L346.5 65.3L347.2 64.9L348.5 64.6L351.0 64.4L351.7 64.0L352.8 63.2L353.5 63.0L374.0 63.0L374.8 63.0L375.4 63.2L377.7 65.5L378.3 66.8L378.5 68.5L378.5 74.2L378.0 76.0L377.0 77.3L376.6 78.0L376.4 80.5L376.0 82.0L375.7 82.5L374.2 83.9L374.0 84.5L374.0 85.8L373.8 86.2L372.5 87.6L372.1 88.2L372.0 91.5L371.8 92.2L371.2 92.8L370.5 93.0L363.0 93.1L362.2 93.7L362.0 94.5L362.1 96.0L362.4 96.5L363.0 96.9L370.2 97.0L371.2 97.2L371.8 97.7L372.0 98.2L372.0 99.5L371.8 100.2L371.5 100.6L370.4 101.5L369.5 102.6L368.8 103.0L355.0 103.1L354.5 103.4L353.5 104.6L352.4 105.5L351.5 106.6L350.4 107.5L349.5 108.6L349.0 108.9L348.0 109.0Z" fill="#2e2a8e" fill-rule="evenodd"/><path d="M341.2 107.0L337.8 107.0L337.0 106.8L335.5 105.5L334.2 104.0L333.8 102.0L332.3 100.2L332.1 99.8L332.0 96.8L331.8 96.0L330.3 94.2L330.1 93.8L329.9 90.2L329.7 89.8L328.3 88.2L328.1 87.8L328.0 84.8L328.1 84.2L328.3 83.8L329.2 83.1L331.0 82.8L333.2 80.9L335.8 80.1L337.4 78.8L339.0 77.2L340.8 76.9L341.4 76.5L341.9 75.8L342.2 74.0L343.8 72.2L344.1 70.2L344.3 69.8L345.7 68.5L347.5 66.5L348.8 65.7L351.0 65.4L353.5 64.4L358.5 64.1L373.0 64.1L374.5 64.3L375.5 64.9L376.7 66.2L377.5 68.0L377.4 74.0L375.7 77.8L375.5 79.8L375.2 80.5L374.7 81.2L372.3 83.8L372.1 84.2L371.9 85.8L371.7 86.2L370.8 86.9L369.2 87.0L368.8 87.2L368.4 87.5L367.5 88.6L366.8 89.0L355.8 89.0L354.7 89.2L354.2 89.8L354.0 90.5L354.0 99.2L353.8 100.3L353.2 100.7L352.8 100.7L351.2 99.3L350.8 99.3L350.4 99.5L350.0 100.2L350.0 103.5L349.8 104.2L349.4 104.8L348.5 105.4L347.6 106.5L347.2 106.8L346.2 107.0L341.2 107.0Z" fill="#2259cc" fill-rule="evenodd"/><path d="M343.2 104.8L342.2 105.0L337.8 105.0L337.0 104.8L336.3 104.2L336.1 103.8L335.8 102.0L334.3 100.2L334.1 99.8L333.9 98.0L333.3 95.8L332.1 93.8L331.9 90.2L331.7 89.8L330.3 88.2L330.1 87.8L330.0 86.2L330.4 85.5L331.5 84.7L333.0 83.0L334.2 81.9L335.0 81.6L339.4 80.2L341.5 78.7L343.0 77.2L344.8 77.0L345.5 76.6L345.9 76.0L346.0 74.2L346.2 73.8L346.6 73.2L347.5 72.6L347.9 72.0L348.1 68.2L348.3 67.8L349.0 67.2L350.8 66.9L352.5 65.8L353.8 65.3L355.5 64.9L358.2 64.6L372.5 64.6L373.8 64.8L374.8 65.3L375.8 66.3L376.5 67.8L376.7 68.5L376.7 70.5L376.2 73.3L375.3 76.2L374.1 78.0L374.0 79.5L373.7 80.2L371.0 82.8L368.8 83.2L368.2 83.6L367.6 84.5L367.0 84.9L365.2 85.0L364.8 85.2L364.4 85.5L363.5 86.6L362.8 87.0L353.2 87.0L352.5 86.6L351.6 85.5L351.0 85.1L349.2 85.0L348.5 85.4L348.2 85.8L348.0 86.5L348.0 97.0L347.9 98.0L347.5 98.6L346.6 99.2L346.2 99.8L346.0 100.2L346.0 101.8L345.8 102.3L344.5 103.4L343.6 104.5L343.2 104.8Z" fill="#22a5de" fill-rule="evenodd"/><path d="M363.0 81.5L357.0 81.5L354.8 81.0L353.2 81.0L352.8 80.8L352.4 80.5L352.0 79.8L352.0 78.2L351.8 77.8L351.5 77.4L350.4 76.5L350.1 76.0L350.0 75.2L350.1 72.0L350.4 71.5L351.3 70.5L351.4 69.8L351.5 68.2L351.9 67.5L352.8 66.7L354.2 65.9L356.0 65.4L358.5 65.1L372.5 65.0L373.2 65.1L374.1 65.5L374.9 66.2L375.8 67.8L376.0 68.8L375.9 70.5L375.5 72.0L375.0 72.9L373.8 74.4L372.6 75.2L372.2 75.8L372.0 76.2L372.0 77.8L371.8 78.3L370.4 79.5L369.5 80.6L369.0 80.9L365.2 81.0L363.0 81.5ZM341.2 102.8L340.0 103.0L338.8 102.8L336.2 100.0L335.9 98.0L334.7 96.2L334.1 94.0L333.9 90.0L333.6 89.5L332.4 88.2L332.3 87.8L332.5 87.4L333.5 86.6L333.8 86.2L334.1 84.2L334.3 83.8L335.0 83.2L336.8 82.9L338.5 81.8L341.0 81.1L344.8 81.0L345.5 81.4L345.8 81.8L346.0 82.2L345.9 84.0L345.6 84.5L344.9 85.2L344.7 86.0L345.0 86.8L345.7 87.5L345.9 88.0L346.0 89.8L345.6 90.5L344.4 91.5L344.0 92.2L343.9 100.0L343.6 100.5L342.5 101.4L341.6 102.5L341.2 102.8Z" fill="#3db84a" fill-rule="evenodd"/><path d="M371.0 73.5L357.5 73.5L355.8 73.3L354.5 72.7L352.8 70.8L352.5 69.8L352.6 68.2L352.9 67.8L353.2 67.4L355.2 66.4L356.5 65.9L358.5 65.5L373.0 65.5L374.0 66.1L375.1 67.8L375.3 68.8L375.2 70.2L374.6 71.5L373.2 72.8L372.3 73.2L371.0 73.5ZM363.2 80.3L362.2 80.5L357.0 80.4L356.2 80.0L354.5 78.6L354.3 78.2L354.3 77.8L354.8 77.2L355.5 77.0L364.2 77.0L365.3 77.2L365.7 77.8L365.8 78.2L365.6 78.5L363.2 80.3ZM341.2 92.8L340.0 93.0L338.8 92.8L336.4 90.5L336.0 89.8L336.0 86.8L336.2 85.8L336.6 85.2L338.5 83.5L339.0 83.2L339.5 83.0L341.0 83.1L341.8 83.6L343.2 85.4L343.8 87.5L343.8 88.2L342.7 89.8L342.0 92.0L341.2 92.8Z" fill="#a4d43a" fill-rule="evenodd"/><path d="M366.0 72.5L357.8 72.5L356.8 72.4L355.7 71.8L354.3 70.2L354.0 69.5L354.1 68.5L354.6 67.8L356.1 66.8L357.2 66.3L359.0 65.9L372.2 65.9L373.0 66.0L373.8 66.7L374.5 68.0L374.6 69.0L374.3 70.2L373.4 71.2L372.0 72.1L371.0 72.4L366.0 72.5ZM340.8 90.9L339.8 91.0L339.0 90.8L338.1 90.0L337.7 89.0L337.5 87.8L337.8 86.5L338.5 85.5L339.2 85.1L340.2 85.0L341.0 85.2L341.8 85.8L342.3 86.8L342.4 87.5L342.3 88.2L341.2 90.4L340.8 90.9Z" fill="#f4e424" fill-rule="evenodd"/><path d="M371.2 71.3L370.5 71.4L369.0 71.1L366.5 71.5L357.2 71.5L356.5 71.1L355.7 70.2L355.5 69.5L355.5 68.5L355.9 67.8L356.6 67.2L357.2 67.0L359.2 66.6L366.8 66.5L369.0 66.9L371.0 66.6L372.8 66.6L373.2 67.0L373.8 67.8L373.9 68.5L373.7 69.2L373.4 70.0L373.0 70.4L371.2 71.3ZM340.8 88.8L339.8 89.0L339.0 88.7L338.7 88.0L339.0 87.3L339.5 87.0L340.0 87.0L340.5 87.0L341.0 87.3L341.3 88.0L341.1 88.5L340.8 88.8Z" fill="#f6a020" fill-rule="evenodd"/><path d="M367.2 70.3L366.2 70.5L357.5 70.4L357.0 70.3L356.7 70.0L356.6 69.5L356.6 68.5L356.9 68.0L357.2 67.8L358.8 67.6L366.8 67.6L367.5 67.8L368.0 68.5L367.9 69.8L367.2 70.3ZM371.0 70.3L370.5 70.1L370.1 69.8L370.0 68.8L370.2 68.1L370.6 67.8L371.2 67.6L372.2 67.6L372.8 67.7L373.0 68.2L372.8 69.0L371.7 70.0L371.0 70.3Z" fill="#e8381e" fill-rule="evenodd"/></g><line x1="352.5" y1="31.6" x2="352.5" y2="112.3" stroke="#555" stroke-width="1" /><line x1="312.6" y1="74.5" x2="392.7" y2="74.5" stroke="#555" stroke-width="1" /><rect x="312.6" y="31.6" width="80.1" height="80.7" fill="none" stroke="#231f20" stroke-width="0.95"/><clipPath id="fc2"><rect x="428.1" y="31.6" width="80.3" height="80.7"/></clipPath><g clip-path="url(#fc2)"><path d="M464.0 109.0L455.0 108.9L454.5 108.6L453.0 107.2L450.8 106.8L449.0 105.2L447.0 104.9L446.4 104.5L446.0 103.8L446.0 100.8L445.8 100.0L444.2 98.3L444.0 97.8L443.8 96.0L442.4 94.5L442.0 93.8L442.0 86.8L442.2 85.7L446.3 81.5L447.5 80.6L448.4 79.5L448.8 79.2L449.2 79.0L450.8 79.0L452.8 78.5L455.0 78.4L455.7 78.0L456.6 77.2L457.2 77.0L458.8 77.0L460.8 76.5L463.0 76.4L463.8 76.0L465.3 74.8L465.6 74.2L465.5 73.9L465.0 73.6L463.0 73.1L461.2 73.0L460.7 72.8L459.5 71.4L458.5 70.6L458.2 70.0L458.4 69.5L458.8 69.2L461.0 68.8L462.8 67.2L465.0 66.8L466.5 65.3L467.0 65.0L469.0 64.5L473.2 64.0L474.8 63.2L475.5 63.0L490.2 63.0L491.4 63.2L493.7 65.5L494.2 66.5L494.5 68.2L494.5 72.0L494.0 74.2L493.9 76.0L492.7 77.8L492.1 80.0L491.9 82.0L491.6 82.5L490.2 84.0L489.8 86.2L489.5 86.6L489.0 86.9L487.5 87.0L486.8 86.8L485.8 85.9L485.0 85.6L482.8 85.5L480.2 85.0L477.5 85.0L477.0 85.1L476.5 85.4L476.1 86.0L476.0 86.8L476.0 103.0L475.8 104.2L475.5 104.6L475.0 104.9L473.0 105.2L471.2 106.8L470.5 107.0L467.2 107.1L466.6 107.5L465.2 108.8L464.0 109.0ZM477.3 82.8L477.8 82.2L477.8 81.8L477.5 80.2L477.4 78.5L477.3 78.0L477.0 77.7L476.2 77.5L471.5 77.5L470.8 77.7L470.2 78.0L470.0 78.8L470.1 80.0L470.6 81.8L471.0 82.3L471.5 82.4L473.5 82.6L475.5 83.0L476.8 83.0L477.3 82.8Z" fill="#2e2a8e" fill-rule="evenodd"/><path d="M485.5 84.3L484.2 84.5L482.8 84.3L480.5 82.6L478.8 80.4L478.6 79.8L478.4 78.0L477.9 77.2L477.3 76.8L476.5 76.5L471.5 76.5L470.5 76.2L470.1 75.8L470.0 74.5L469.5 73.8L464.6 72.2L462.5 70.6L462.3 70.2L462.4 69.8L462.8 69.4L463.2 69.1L464.8 68.9L465.2 68.7L467.8 66.3L468.5 65.8L469.5 65.3L471.0 65.0L475.2 64.3L479.2 64.2L487.5 64.2L490.2 64.4L491.2 64.7L492.3 65.8L493.4 67.8L493.5 70.2L493.4 72.2L492.6 74.0L491.3 78.2L490.1 80.2L490.0 81.5L489.8 82.1L489.2 82.7L488.8 82.9L486.8 83.2L485.5 84.3ZM463.2 107.0L455.2 106.9L454.8 106.7L453.0 105.2L451.5 105.0L450.9 104.8L449.5 103.3L448.4 102.5L448.0 101.8L447.8 100.0L446.2 98.0L445.8 96.0L444.3 94.2L444.1 93.8L444.0 86.5L444.2 86.0L444.5 85.5L446.8 83.2L447.5 82.8L449.5 82.2L452.5 79.8L453.2 79.5L455.0 79.4L457.0 78.6L459.0 78.4L461.0 77.6L463.2 77.5L465.5 77.0L466.8 77.0L467.3 77.2L467.8 77.8L468.2 80.0L470.1 82.8L471.0 83.4L473.2 83.7L473.7 84.0L474.0 84.5L474.0 101.8L473.8 102.2L473.5 102.6L472.5 103.3L471.0 104.8L469.0 105.1L467.0 105.6L466.2 105.9L464.8 106.9L463.2 107.0Z" fill="#2259cc" fill-rule="evenodd"/><path d="M487.2 80.8L486.5 81.0L484.8 81.0L483.5 81.0L482.8 80.8L482.4 80.5L481.5 79.4L480.4 78.5L479.5 77.2L477.2 75.3L476.5 75.0L473.5 75.0L472.8 74.8L471.0 73.1L470.5 72.8L468.6 72.2L466.6 70.8L466.3 70.2L466.4 69.8L469.9 66.2L470.9 65.8L472.5 65.3L475.0 65.0L479.0 64.8L486.2 64.7L488.8 65.0L490.8 65.4L491.8 66.3L492.5 67.8L492.7 69.5L492.5 71.8L491.2 74.4L490.2 75.8L489.8 78.0L487.2 80.8ZM463.2 105.0L455.8 105.0L455.2 104.9L454.8 104.7L453.5 103.3L452.4 102.5L451.5 101.4L450.5 100.6L449.7 99.5L448.3 98.2L448.1 97.8L447.8 95.8L446.5 94.4L446.1 93.8L446.0 86.8L446.1 86.2L446.3 85.8L448.2 84.0L449.0 83.6L450.8 83.1L453.0 81.2L455.0 80.8L456.2 80.0L457.0 79.6L459.2 79.5L461.5 79.0L462.5 79.0L463.2 79.2L465.0 80.8L466.8 81.1L467.2 81.3L470.2 84.5L471.5 85.4L471.9 86.0L472.0 87.0L472.0 97.0L471.8 98.2L470.2 99.8L470.0 100.2L469.9 102.0L469.4 102.8L467.8 104.0L467.0 104.4L464.8 105.0L463.2 105.0Z" fill="#22a5de" fill-rule="evenodd"/><path d="M486.0 75.0L479.5 75.0L479.0 74.8L477.8 73.9L477.0 73.6L475.0 73.1L473.0 72.8L470.6 70.8L470.2 70.2L470.0 69.2L470.2 68.0L471.3 66.8L472.5 66.0L473.8 65.8L477.0 65.6L479.0 65.3L487.0 65.3L488.8 65.6L490.2 66.1L491.2 66.8L491.9 68.0L492.0 70.0L491.5 72.0L491.0 72.8L490.5 73.2L488.6 73.8L487.2 74.8L486.0 75.0ZM465.2 102.8L464.8 103.0L463.5 103.0L457.8 103.0L456.8 102.8L456.4 102.5L455.5 101.4L454.4 100.5L453.5 99.4L452.4 98.5L452.0 97.8L452.0 96.2L451.8 95.8L451.4 95.2L450.5 94.6L450.1 94.0L450.0 87.0L450.2 85.8L450.6 85.2L451.7 84.5L452.8 83.3L453.2 83.1L455.0 82.8L456.8 81.3L457.2 81.1L462.0 81.0L463.0 81.2L465.8 83.5L467.5 85.2L467.9 86.0L468.0 87.0L468.0 97.8L467.6 98.5L466.5 99.4L466.2 99.8L466.0 100.2L465.9 102.0L465.6 102.5L465.2 102.8Z" fill="#3db84a" fill-rule="evenodd"/><path d="M484.8 73.5L481.5 73.5L480.2 73.4L476.8 72.4L475.0 71.6L473.5 71.2L472.8 70.7L472.2 70.0L472.0 69.0L472.2 68.0L472.8 67.2L473.7 66.8L479.5 65.8L487.0 65.8L489.2 66.4L490.8 67.3L491.3 68.2L491.3 69.5L491.0 70.8L490.5 71.6L489.2 72.4L486.0 73.3L484.8 73.5ZM463.0 91.5L461.0 91.7L458.2 91.7L456.0 91.3L454.8 90.9L454.2 90.2L454.0 89.5L454.0 86.5L454.3 85.5L456.8 83.3L457.8 82.7L459.0 82.5L461.0 82.5L462.2 82.7L463.0 83.1L465.8 85.1L466.3 85.8L466.4 86.5L466.0 88.2L466.0 89.8L465.8 90.3L465.4 90.8L464.8 91.1L463.0 91.5Z" fill="#a4d43a" fill-rule="evenodd"/><path d="M483.5 72.5L481.0 72.4L479.2 71.8L477.2 71.5L476.5 71.2L474.3 70.0L474.0 69.2L474.1 68.2L474.6 67.8L475.5 67.3L478.8 66.5L479.8 66.4L487.0 66.4L489.2 67.2L490.3 68.0L490.5 68.8L490.4 70.0L490.0 70.6L489.3 71.2L488.7 71.5L486.8 71.8L485.0 72.4L483.5 72.5ZM460.0 91.0L457.8 90.8L456.8 90.4L456.2 90.0L455.8 89.5L455.6 88.8L455.5 86.5L455.6 86.0L456.0 85.3L457.2 84.4L459.0 83.6L460.8 83.5L461.8 83.8L464.0 84.8L465.0 85.5L465.3 86.2L464.6 88.0L464.2 89.5L463.8 90.0L463.2 90.4L462.2 90.8L460.0 91.0Z" fill="#f4e424" fill-rule="evenodd"/><path d="M485.8 71.3L484.5 71.5L481.5 71.5L477.8 70.8L477.0 70.4L476.2 69.9L476.0 69.2L476.1 68.5L476.5 68.0L476.9 67.8L478.5 67.2L479.5 67.0L486.8 67.0L488.4 67.5L489.2 68.0L489.4 68.5L489.5 69.2L489.4 69.8L489.1 70.2L488.2 70.7L485.8 71.3ZM460.8 90.3L459.2 90.3L458.5 90.1L457.8 89.7L457.1 89.0L456.6 88.0L456.5 87.0L456.7 86.0L457.1 85.5L459.0 84.6L460.5 84.5L463.0 85.1L464.1 85.8L464.2 86.0L464.2 86.5L463.0 88.9L462.0 89.8L460.8 90.3Z" fill="#f6a020" fill-rule="evenodd"/><path d="M486.8 70.3L483.2 70.5L481.2 70.5L479.2 70.3L478.5 70.0L478.2 69.8L478.0 69.2L478.0 68.8L478.2 68.2L478.6 68.0L479.2 67.8L486.8 67.8L487.4 68.0L487.8 68.2L488.0 69.0L487.8 69.8L487.5 70.0L486.8 70.3ZM461.0 88.8L460.5 89.0L459.5 89.0L459.0 88.8L458.5 88.4L458.2 88.0L458.0 87.2L458.1 86.5L458.4 86.0L459.0 85.6L460.0 85.5L462.2 85.7L463.0 86.0L463.1 86.2L462.9 86.8L461.7 88.2L461.0 88.8Z" fill="#e8381e" fill-rule="evenodd"/></g><line x1="467.5" y1="31.6" x2="467.5" y2="112.3" stroke="#555" stroke-width="1" /><line x1="428.1" y1="74.5" x2="508.4" y2="74.5" stroke="#555" stroke-width="1" /><rect x="428.1" y="31.6" width="80.3" height="80.7" fill="none" stroke="#231f20" stroke-width="0.95"/><text x="387.6" y="42.74" font-size="7.6" text-anchor="end" textLength="22.1" lengthAdjust="spacingAndGlyphs">37.8%</text><text x="387.6" y="110.24" font-size="7.6" text-anchor="end" textLength="22.1" lengthAdjust="spacingAndGlyphs">22.4%</text><text x="503.3" y="42.74" font-size="7.6" text-anchor="end" textLength="22.1" lengthAdjust="spacingAndGlyphs">31.6%</text><text x="503.3" y="110.24" font-size="7.6" text-anchor="end" textLength="22.1" lengthAdjust="spacingAndGlyphs">12.4%</text><text x="308.1" y="36.39" font-size="7.2" text-anchor="end">10<tspan dy="-3.02" font-size="5.62">7</tspan><tspan dy="3.02">&#8203;</tspan></text><text x="308.1" y="47.89" font-size="7.2" text-anchor="end">10<tspan dy="-3.02" font-size="5.62">6</tspan><tspan dy="3.02">&#8203;</tspan></text><text x="308.1" y="59.39" font-size="7.2" text-anchor="end">10<tspan dy="-3.02" font-size="5.62">5</tspan><tspan dy="3.02">&#8203;</tspan></text><text x="308.1" y="69.99" font-size="7.2" text-anchor="end">10<tspan dy="-3.02" font-size="5.62">4</tspan><tspan dy="3.02">&#8203;</tspan></text><text x="308.1" y="81.39" font-size="7.2" text-anchor="end">10<tspan dy="-3.02" font-size="5.62">3</tspan><tspan dy="3.02">&#8203;</tspan></text><text x="308.1" y="98.19" font-size="7.2" text-anchor="end">0</text><text x="308.1" y="113.19" font-size="7.2" text-anchor="end">−10<tspan dy="-3.02" font-size="5.62">3</tspan><tspan dy="3.02">&#8203;</tspan></text><line x1="310.4" y1="33.5" x2="312.6" y2="33.5" stroke="#231f20" stroke-width="1" /><line x1="310.4" y1="45.5" x2="312.6" y2="45.5" stroke="#231f20" stroke-width="1" /><line x1="310.4" y1="56.5" x2="312.6" y2="56.5" stroke="#231f20" stroke-width="1" /><line x1="310.4" y1="67.5" x2="312.6" y2="67.5" stroke="#231f20" stroke-width="1" /><line x1="310.4" y1="78.5" x2="312.6" y2="78.5" stroke="#231f20" stroke-width="1" /><line x1="310.4" y1="95.5" x2="312.6" y2="95.5" stroke="#231f20" stroke-width="1" /><line x1="310.4" y1="110.5" x2="312.6" y2="110.5" stroke="#231f20" stroke-width="1" /><line x1="311.4" y1="33.8" x2="312.6" y2="33.8" stroke="#231f20" stroke-width="0.5" /><line x1="311.4" y1="37.46" x2="312.6" y2="37.46" stroke="#231f20" stroke-width="0.5" /><line x1="311.4" y1="41.11" x2="312.6" y2="41.11" stroke="#231f20" stroke-width="0.5" /><line x1="311.4" y1="44.77" x2="312.6" y2="44.77" stroke="#231f20" stroke-width="0.5" /><line x1="311.4" y1="48.43" x2="312.6" y2="48.43" stroke="#231f20" stroke-width="0.5" /><line x1="311.4" y1="52.09" x2="312.6" y2="52.09" stroke="#231f20" stroke-width="0.5" /><line x1="311.4" y1="55.74" x2="312.6" y2="55.74" stroke="#231f20" stroke-width="0.5" /><line x1="311.4" y1="59.4" x2="312.6" y2="59.4" stroke="#231f20" stroke-width="0.5" /><line x1="311.4" y1="63.06" x2="312.6" y2="63.06" stroke="#231f20" stroke-width="0.5" /><line x1="311.4" y1="66.71" x2="312.6" y2="66.71" stroke="#231f20" stroke-width="0.5" /><line x1="311.4" y1="70.37" x2="312.6" y2="70.37" stroke="#231f20" stroke-width="0.5" /><line x1="311.4" y1="74.03" x2="312.6" y2="74.03" stroke="#231f20" stroke-width="0.5" /><line x1="311.4" y1="77.69" x2="312.6" y2="77.69" stroke="#231f20" stroke-width="0.5" /><line x1="311.4" y1="81.34" x2="312.6" y2="81.34" stroke="#231f20" stroke-width="0.5" /><line x1="311.4" y1="85" x2="312.6" y2="85" stroke="#231f20" stroke-width="0.5" /><line x1="311.4" y1="88.66" x2="312.6" y2="88.66" stroke="#231f20" stroke-width="0.5" /><line x1="311.4" y1="92.31" x2="312.6" y2="92.31" stroke="#231f20" stroke-width="0.5" /><line x1="311.4" y1="95.97" x2="312.6" y2="95.97" stroke="#231f20" stroke-width="0.5" /><line x1="311.4" y1="99.63" x2="312.6" y2="99.63" stroke="#231f20" stroke-width="0.5" /><line x1="311.4" y1="103.29" x2="312.6" y2="103.29" stroke="#231f20" stroke-width="0.5" /><line x1="311.4" y1="106.94" x2="312.6" y2="106.94" stroke="#231f20" stroke-width="0.5" /><line x1="311.4" y1="110.6" x2="312.6" y2="110.6" stroke="#231f20" stroke-width="0.5" /><text x="318.9" y="125.56" font-size="7.4" text-anchor="middle">0</text><line x1="318.5" y1="112.3" x2="318.5" y2="114.3" stroke="#231f20" stroke-width="1" /><text x="336.8" y="125.56" font-size="7.4" text-anchor="middle">10<tspan dy="-3.11" font-size="5.77">3</tspan><tspan dy="3.11">&#8203;</tspan></text><line x1="336.5" y1="112.3" x2="336.5" y2="114.3" stroke="#231f20" stroke-width="1" /><text x="350.8" y="125.56" font-size="7.4" text-anchor="middle">10<tspan dy="-3.11" font-size="5.77">4</tspan><tspan dy="3.11">&#8203;</tspan></text><line x1="350.5" y1="112.3" x2="350.5" y2="114.3" stroke="#231f20" stroke-width="1" /><text x="363.9" y="125.56" font-size="7.4" text-anchor="middle">10<tspan dy="-3.11" font-size="5.77">5</tspan><tspan dy="3.11">&#8203;</tspan></text><line x1="363.5" y1="112.3" x2="363.5" y2="114.3" stroke="#231f20" stroke-width="1" /><text x="376.6" y="125.56" font-size="7.4" text-anchor="middle">10<tspan dy="-3.11" font-size="5.77">6</tspan><tspan dy="3.11">&#8203;</tspan></text><line x1="376.5" y1="112.3" x2="376.5" y2="114.3" stroke="#231f20" stroke-width="1" /><text x="389.9" y="125.56" font-size="7.4" text-anchor="middle">10<tspan dy="-3.11" font-size="5.77">7</tspan><tspan dy="3.11">&#8203;</tspan></text><line x1="389.5" y1="112.3" x2="389.5" y2="114.3" stroke="#231f20" stroke-width="1" /><line x1="318.9" y1="112.3" x2="318.9" y2="113.5" stroke="#231f20" stroke-width="0.5" /><line x1="322.64" y1="112.3" x2="322.64" y2="113.5" stroke="#231f20" stroke-width="0.5" /><line x1="326.37" y1="112.3" x2="326.37" y2="113.5" stroke="#231f20" stroke-width="0.5" /><line x1="330.11" y1="112.3" x2="330.11" y2="113.5" stroke="#231f20" stroke-width="0.5" /><line x1="333.85" y1="112.3" x2="333.85" y2="113.5" stroke="#231f20" stroke-width="0.5" /><line x1="337.58" y1="112.3" x2="337.58" y2="113.5" stroke="#231f20" stroke-width="0.5" /><line x1="341.32" y1="112.3" x2="341.32" y2="113.5" stroke="#231f20" stroke-width="0.5" /><line x1="345.06" y1="112.3" x2="345.06" y2="113.5" stroke="#231f20" stroke-width="0.5" /><line x1="348.79" y1="112.3" x2="348.79" y2="113.5" stroke="#231f20" stroke-width="0.5" /><line x1="352.53" y1="112.3" x2="352.53" y2="113.5" stroke="#231f20" stroke-width="0.5" /><line x1="356.27" y1="112.3" x2="356.27" y2="113.5" stroke="#231f20" stroke-width="0.5" /><line x1="360.01" y1="112.3" x2="360.01" y2="113.5" stroke="#231f20" stroke-width="0.5" /><line x1="363.74" y1="112.3" x2="363.74" y2="113.5" stroke="#231f20" stroke-width="0.5" /><line x1="367.48" y1="112.3" x2="367.48" y2="113.5" stroke="#231f20" stroke-width="0.5" /><line x1="371.22" y1="112.3" x2="371.22" y2="113.5" stroke="#231f20" stroke-width="0.5" /><line x1="374.95" y1="112.3" x2="374.95" y2="113.5" stroke="#231f20" stroke-width="0.5" /><line x1="378.69" y1="112.3" x2="378.69" y2="113.5" stroke="#231f20" stroke-width="0.5" /><line x1="382.43" y1="112.3" x2="382.43" y2="113.5" stroke="#231f20" stroke-width="0.5" /><line x1="386.16" y1="112.3" x2="386.16" y2="113.5" stroke="#231f20" stroke-width="0.5" /><line x1="389.9" y1="112.3" x2="389.9" y2="113.5" stroke="#231f20" stroke-width="0.5" /><text x="423.6" y="36.39" font-size="7.2" text-anchor="end">10<tspan dy="-3.02" font-size="5.62">7</tspan><tspan dy="3.02">&#8203;</tspan></text><text x="423.6" y="47.89" font-size="7.2" text-anchor="end">10<tspan dy="-3.02" font-size="5.62">6</tspan><tspan dy="3.02">&#8203;</tspan></text><text x="423.6" y="59.39" font-size="7.2" text-anchor="end">10<tspan dy="-3.02" font-size="5.62">5</tspan><tspan dy="3.02">&#8203;</tspan></text><text x="423.6" y="69.99" font-size="7.2" text-anchor="end">10<tspan dy="-3.02" font-size="5.62">4</tspan><tspan dy="3.02">&#8203;</tspan></text><text x="423.6" y="81.39" font-size="7.2" text-anchor="end">10<tspan dy="-3.02" font-size="5.62">3</tspan><tspan dy="3.02">&#8203;</tspan></text><text x="423.6" y="98.19" font-size="7.2" text-anchor="end">0</text><text x="423.6" y="113.19" font-size="7.2" text-anchor="end">−10<tspan dy="-3.02" font-size="5.62">3</tspan><tspan dy="3.02">&#8203;</tspan></text><line x1="425.9" y1="33.5" x2="428.1" y2="33.5" stroke="#231f20" stroke-width="1" /><line x1="425.9" y1="45.5" x2="428.1" y2="45.5" stroke="#231f20" stroke-width="1" /><line x1="425.9" y1="56.5" x2="428.1" y2="56.5" stroke="#231f20" stroke-width="1" /><line x1="425.9" y1="67.5" x2="428.1" y2="67.5" stroke="#231f20" stroke-width="1" /><line x1="425.9" y1="78.5" x2="428.1" y2="78.5" stroke="#231f20" stroke-width="1" /><line x1="425.9" y1="95.5" x2="428.1" y2="95.5" stroke="#231f20" stroke-width="1" /><line x1="425.9" y1="110.5" x2="428.1" y2="110.5" stroke="#231f20" stroke-width="1" /><line x1="426.9" y1="33.8" x2="428.1" y2="33.8" stroke="#231f20" stroke-width="0.5" /><line x1="426.9" y1="37.46" x2="428.1" y2="37.46" stroke="#231f20" stroke-width="0.5" /><line x1="426.9" y1="41.11" x2="428.1" y2="41.11" stroke="#231f20" stroke-width="0.5" /><line x1="426.9" y1="44.77" x2="428.1" y2="44.77" stroke="#231f20" stroke-width="0.5" /><line x1="426.9" y1="48.43" x2="428.1" y2="48.43" stroke="#231f20" stroke-width="0.5" /><line x1="426.9" y1="52.09" x2="428.1" y2="52.09" stroke="#231f20" stroke-width="0.5" /><line x1="426.9" y1="55.74" x2="428.1" y2="55.74" stroke="#231f20" stroke-width="0.5" /><line x1="426.9" y1="59.4" x2="428.1" y2="59.4" stroke="#231f20" stroke-width="0.5" /><line x1="426.9" y1="63.06" x2="428.1" y2="63.06" stroke="#231f20" stroke-width="0.5" /><line x1="426.9" y1="66.71" x2="428.1" y2="66.71" stroke="#231f20" stroke-width="0.5" /><line x1="426.9" y1="70.37" x2="428.1" y2="70.37" stroke="#231f20" stroke-width="0.5" /><line x1="426.9" y1="74.03" x2="428.1" y2="74.03" stroke="#231f20" stroke-width="0.5" /><line x1="426.9" y1="77.69" x2="428.1" y2="77.69" stroke="#231f20" stroke-width="0.5" /><line x1="426.9" y1="81.34" x2="428.1" y2="81.34" stroke="#231f20" stroke-width="0.5" /><line x1="426.9" y1="85" x2="428.1" y2="85" stroke="#231f20" stroke-width="0.5" /><line x1="426.9" y1="88.66" x2="428.1" y2="88.66" stroke="#231f20" stroke-width="0.5" /><line x1="426.9" y1="92.31" x2="428.1" y2="92.31" stroke="#231f20" stroke-width="0.5" /><line x1="426.9" y1="95.97" x2="428.1" y2="95.97" stroke="#231f20" stroke-width="0.5" /><line x1="426.9" y1="99.63" x2="428.1" y2="99.63" stroke="#231f20" stroke-width="0.5" /><line x1="426.9" y1="103.29" x2="428.1" y2="103.29" stroke="#231f20" stroke-width="0.5" /><line x1="426.9" y1="106.94" x2="428.1" y2="106.94" stroke="#231f20" stroke-width="0.5" /><line x1="426.9" y1="110.6" x2="428.1" y2="110.6" stroke="#231f20" stroke-width="0.5" /><text x="434.4" y="125.56" font-size="7.4" text-anchor="middle">0</text><line x1="434.5" y1="112.3" x2="434.5" y2="114.3" stroke="#231f20" stroke-width="1" /><text x="452.3" y="125.56" font-size="7.4" text-anchor="middle">10<tspan dy="-3.11" font-size="5.77">3</tspan><tspan dy="3.11">&#8203;</tspan></text><line x1="452.5" y1="112.3" x2="452.5" y2="114.3" stroke="#231f20" stroke-width="1" /><text x="466.3" y="125.56" font-size="7.4" text-anchor="middle">10<tspan dy="-3.11" font-size="5.77">4</tspan><tspan dy="3.11">&#8203;</tspan></text><line x1="466.5" y1="112.3" x2="466.5" y2="114.3" stroke="#231f20" stroke-width="1" /><text x="479.4" y="125.56" font-size="7.4" text-anchor="middle">10<tspan dy="-3.11" font-size="5.77">5</tspan><tspan dy="3.11">&#8203;</tspan></text><line x1="479.5" y1="112.3" x2="479.5" y2="114.3" stroke="#231f20" stroke-width="1" /><text x="492.1" y="125.56" font-size="7.4" text-anchor="middle">10<tspan dy="-3.11" font-size="5.77">6</tspan><tspan dy="3.11">&#8203;</tspan></text><line x1="492.5" y1="112.3" x2="492.5" y2="114.3" stroke="#231f20" stroke-width="1" /><text x="505.4" y="125.56" font-size="7.4" text-anchor="middle">10<tspan dy="-3.11" font-size="5.77">7</tspan><tspan dy="3.11">&#8203;</tspan></text><line x1="505.5" y1="112.3" x2="505.5" y2="114.3" stroke="#231f20" stroke-width="1" /><line x1="434.4" y1="112.3" x2="434.4" y2="113.5" stroke="#231f20" stroke-width="0.5" /><line x1="438.14" y1="112.3" x2="438.14" y2="113.5" stroke="#231f20" stroke-width="0.5" /><line x1="441.87" y1="112.3" x2="441.87" y2="113.5" stroke="#231f20" stroke-width="0.5" /><line x1="445.61" y1="112.3" x2="445.61" y2="113.5" stroke="#231f20" stroke-width="0.5" /><line x1="449.35" y1="112.3" x2="449.35" y2="113.5" stroke="#231f20" stroke-width="0.5" /><line x1="453.08" y1="112.3" x2="453.08" y2="113.5" stroke="#231f20" stroke-width="0.5" /><line x1="456.82" y1="112.3" x2="456.82" y2="113.5" stroke="#231f20" stroke-width="0.5" /><line x1="460.56" y1="112.3" x2="460.56" y2="113.5" stroke="#231f20" stroke-width="0.5" /><line x1="464.29" y1="112.3" x2="464.29" y2="113.5" stroke="#231f20" stroke-width="0.5" /><line x1="468.03" y1="112.3" x2="468.03" y2="113.5" stroke="#231f20" stroke-width="0.5" /><line x1="471.77" y1="112.3" x2="471.77" y2="113.5" stroke="#231f20" stroke-width="0.5" /><line x1="475.51" y1="112.3" x2="475.51" y2="113.5" stroke="#231f20" stroke-width="0.5" /><line x1="479.24" y1="112.3" x2="479.24" y2="113.5" stroke="#231f20" stroke-width="0.5" /><line x1="482.98" y1="112.3" x2="482.98" y2="113.5" stroke="#231f20" stroke-width="0.5" /><line x1="486.72" y1="112.3" x2="486.72" y2="113.5" stroke="#231f20" stroke-width="0.5" /><line x1="490.45" y1="112.3" x2="490.45" y2="113.5" stroke="#231f20" stroke-width="0.5" /><line x1="494.19" y1="112.3" x2="494.19" y2="113.5" stroke="#231f20" stroke-width="0.5" /><line x1="497.93" y1="112.3" x2="497.93" y2="113.5" stroke="#231f20" stroke-width="0.5" /><line x1="501.66" y1="112.3" x2="501.66" y2="113.5" stroke="#231f20" stroke-width="0.5" /><line x1="505.4" y1="112.3" x2="505.4" y2="113.5" stroke="#231f20" stroke-width="0.5" /><line x1="282.5" y1="40.5" x2="282.5" y2="101" stroke="#231f20" stroke-width="1" /><path d="M282.7 32.2L286.6 41.2L282.7 39.6L278.8 41.2Z" fill="#231f20"/><text transform="translate(282.7 114.6) rotate(-90)" x="0" y="2.95" font-size="8.2" text-anchor="middle" textLength="20.4" lengthAdjust="spacingAndGlyphs">7-AAD</text><text x="291.2" y="137.14" font-size="7.6" textLength="36.3" lengthAdjust="spacingAndGlyphs">Annexin V</text><line x1="331" y1="135.5" x2="504.5" y2="135.5" stroke="#231f20" stroke-width="1" /><path d="M510.5 135L501.5 131.1L503.1 135L501.5 138.9Z" fill="#231f20"/><rect x="318" y="181.16" width="10" height="36.84" fill="#dcdde5" /><rect x="333" y="182.79" width="10" height="35.21" fill="#8595bf" /><rect x="348" y="183.61" width="10" height="34.39" fill="#f9c78c" /><rect x="363" y="194.26" width="10" height="23.74" fill="#e5928a" /><line x1="323.5" y1="177.88" x2="323.5" y2="184.43" stroke="#c2c3cb" stroke-width="1" /><line x1="321" y1="177.5" x2="325" y2="177.5" stroke="#c2c3cb" stroke-width="1" /><line x1="321" y1="184.5" x2="325" y2="184.5" stroke="#c2c3cb" stroke-width="1" /><circle cx="323" cy="177.06" r="1.95" fill="#c2c3cb"/><circle cx="321" cy="180.34" r="1.95" fill="#c2c3cb"/><circle cx="325" cy="181.16" r="1.95" fill="#c2c3cb"/><circle cx="323" cy="183.61" r="1.95" fill="#c2c3cb"/><circle cx="321" cy="186.07" r="1.95" fill="#c2c3cb"/><circle cx="325" cy="185.25" r="1.95" fill="#c2c3cb"/><line x1="338.5" y1="176.24" x2="338.5" y2="189.34" stroke="#1b4a8c" stroke-width="1" /><line x1="336" y1="176.5" x2="340" y2="176.5" stroke="#1b4a8c" stroke-width="1" /><line x1="336" y1="189.5" x2="340" y2="189.5" stroke="#1b4a8c" stroke-width="1" /><rect x="336.16" y="165.4" width="3.68" height="3.68" fill="#1b4a8c" /><rect x="338.16" y="171.95" width="3.68" height="3.68" fill="#1b4a8c" /><rect x="334.16" y="174.4" width="3.68" height="3.68" fill="#1b4a8c" /><rect x="336.16" y="180.13" width="3.68" height="3.68" fill="#1b4a8c" /><rect x="338.66" y="183.41" width="3.68" height="3.68" fill="#1b4a8c" /><rect x="333.66" y="185.05" width="3.68" height="3.68" fill="#1b4a8c" /><rect x="336.16" y="193.23" width="3.68" height="3.68" fill="#1b4a8c" /><line x1="353.5" y1="181.16" x2="353.5" y2="186.07" stroke="#f0a030" stroke-width="1" /><line x1="351" y1="181.5" x2="355" y2="181.5" stroke="#f0a030" stroke-width="1" /><line x1="351" y1="186.5" x2="355" y2="186.5" stroke="#f0a030" stroke-width="1" /><path d="M353 177.22L355.3 181.36L350.7 181.36Z" fill="#f0a030"/><path d="M351 179.67L353.3 183.81L348.7 183.81Z" fill="#f0a030"/><path d="M355 180.49L357.3 184.63L352.7 184.63Z" fill="#f0a030"/><path d="M352 183.77L354.3 187.91L349.7 187.91Z" fill="#f0a030"/><path d="M354.5 184.59L356.8 188.73L352.2 188.73Z" fill="#f0a030"/><line x1="368.5" y1="192.62" x2="368.5" y2="195.89" stroke="#c8103c" stroke-width="1" /><line x1="366" y1="192.5" x2="370" y2="192.5" stroke="#c8103c" stroke-width="1" /><line x1="366" y1="195.5" x2="370" y2="195.5" stroke="#c8103c" stroke-width="1" /><path d="M368 193.28L370.3 189.14L365.7 189.14Z" fill="#c8103c"/><path d="M366 194.92L368.3 190.78L363.7 190.78Z" fill="#c8103c"/><path d="M370 195.74L372.3 191.6L367.7 191.6Z" fill="#c8103c"/><path d="M367 198.19L369.3 194.05L364.7 194.05Z" fill="#c8103c"/><path d="M369.5 199.01L371.8 194.87L367.2 194.87Z" fill="#c8103c"/><line x1="312.5" y1="149.7" x2="312.5" y2="218.45" stroke="#231f20" stroke-width="1" /><line x1="312.05" y1="218.5" x2="378" y2="218.5" stroke="#231f20" stroke-width="1" /><line x1="309.5" y1="218.5" x2="312.5" y2="218.5" stroke="#231f20" stroke-width="1" /><text x="306.3" y="220.88" font-size="8" text-anchor="end">0</text><line x1="309.5" y1="201.5" x2="312.5" y2="201.5" stroke="#231f20" stroke-width="1" /><text x="306.3" y="204.5" font-size="8" text-anchor="end">10</text><line x1="309.5" y1="185.5" x2="312.5" y2="185.5" stroke="#231f20" stroke-width="1" /><text x="306.3" y="188.13" font-size="8" text-anchor="end">20</text><line x1="309.5" y1="168.5" x2="312.5" y2="168.5" stroke="#231f20" stroke-width="1" /><text x="306.3" y="171.75" font-size="8" text-anchor="end">30</text><line x1="309.5" y1="152.5" x2="312.5" y2="152.5" stroke="#231f20" stroke-width="1" /><text x="306.3" y="155.38" font-size="8" text-anchor="end">40</text><line x1="323.5" y1="218" x2="323.5" y2="220.4" stroke="#231f20" stroke-width="1" /><line x1="338.5" y1="218" x2="338.5" y2="220.4" stroke="#231f20" stroke-width="1" /><line x1="353.5" y1="218" x2="353.5" y2="220.4" stroke="#231f20" stroke-width="1" /><line x1="368.5" y1="218" x2="368.5" y2="220.4" stroke="#231f20" stroke-width="1" /><line x1="322.5" y1="157.5" x2="367" y2="157.5" stroke="#3a3a3a" stroke-width="1" /><circle cx="327" cy="153.2" r="1.2" fill="#2a2a2a"/><text transform="translate(288.8 183.8) rotate(-90)" x="0" y="2.35" font-size="8.4" text-anchor="middle" textLength="60" lengthAdjust="spacingAndGlyphs">% Apoptotic T cells</text><circle cx="386.7" cy="167" r="1.61" fill="#c2c3cb"/><text x="391.9" y="169.52" font-size="8.4" textLength="73.7" lengthAdjust="spacingAndGlyphs">IgG control antibody</text><rect x="385.18" y="177.58" width="3.04" height="3.04" fill="#1b4a8c" /><text x="391.9" y="181.62" font-size="8.4" textLength="78.5" lengthAdjust="spacingAndGlyphs">10 µg/mL tafasitamab</text><path d="M386.7 189.3L388.6 192.72L384.8 192.72Z" fill="#f0a030"/><text x="391.9" y="193.72" font-size="8.4" textLength="83.3" lengthAdjust="spacingAndGlyphs">100 µg/mL tafasitamab</text><path d="M386.7 205.2L388.6 201.78L384.8 201.78Z" fill="#c8103c"/><text x="391.9" y="205.82" font-size="8.4" textLength="83.3" lengthAdjust="spacingAndGlyphs">400 µg/mL tafasitamab</text><rect x="416.2" y="382.5" width="8.4" height="11.8" fill="#9d7aae" /><rect x="429.2" y="382" width="8.4" height="12.3" fill="#b5d9a2" /><rect x="452.6" y="302.9" width="8.4" height="24.7" fill="#9d7aae" /><rect x="452.6" y="331.9" width="8.4" height="62.4" fill="#9d7aae" /><rect x="466.1" y="303.9" width="8.4" height="23.7" fill="#b5d9a2" /><rect x="466.1" y="331.9" width="8.4" height="62.4" fill="#b5d9a2" /><line x1="456.5" y1="296.9" x2="456.5" y2="308.5" stroke="#4a1a5c" stroke-width="1" /><line x1="454.8" y1="296.5" x2="458.8" y2="296.5" stroke="#4a1a5c" stroke-width="1" /><line x1="454.8" y1="308.5" x2="458.8" y2="308.5" stroke="#4a1a5c" stroke-width="1" /><line x1="470.5" y1="297.5" x2="470.5" y2="310" stroke="#3aa53a" stroke-width="1" /><line x1="468.3" y1="297.5" x2="472.3" y2="297.5" stroke="#3aa53a" stroke-width="1" /><line x1="468.3" y1="310.5" x2="472.3" y2="310.5" stroke="#3aa53a" stroke-width="1" /><line x1="420.5" y1="377" x2="420.5" y2="384" stroke="#4a1a5c" stroke-width="1" /><line x1="418.6" y1="377.5" x2="422.6" y2="377.5" stroke="#4a1a5c" stroke-width="1" /><line x1="418.6" y1="384.5" x2="422.6" y2="384.5" stroke="#4a1a5c" stroke-width="1" /><line x1="433.5" y1="377.5" x2="433.5" y2="383.5" stroke="#3aa53a" stroke-width="1" /><line x1="431.5" y1="377.5" x2="435.5" y2="377.5" stroke="#3aa53a" stroke-width="1" /><line x1="431.5" y1="383.5" x2="435.5" y2="383.5" stroke="#3aa53a" stroke-width="1" /><path d="M420.6 371.6L422.6 375.2L418.6 375.2Z" fill="#4a1a5c"/><path d="M418.3 376L420.3 379.6L416.3 379.6Z" fill="#4a1a5c"/><path d="M422.9 378.4L424.9 382L420.9 382Z" fill="#4a1a5c"/><path d="M420.6 381.6L422.6 385.2L418.6 385.2Z" fill="#4a1a5c"/><path d="M418.6 384.6L420.6 388.2L416.6 388.2Z" fill="#4a1a5c"/><path d="M422.3 387.4L424.3 391L420.3 391Z" fill="#4a1a5c"/><rect x="429.66" y="371.96" width="3.68" height="3.68" fill="#3aa53a" /><rect x="433.66" y="374.76" width="3.68" height="3.68" fill="#3aa53a" /><rect x="430.66" y="377.96" width="3.68" height="3.68" fill="#3aa53a" /><rect x="434.16" y="379.76" width="3.68" height="3.68" fill="#3aa53a" /><rect x="429.16" y="382.66" width="3.68" height="3.68" fill="#3aa53a" /><rect x="433.16" y="384.76" width="3.68" height="3.68" fill="#3aa53a" /><rect x="431.36" y="387.56" width="3.68" height="3.68" fill="#3aa53a" /><path d="M454.1 284.7L456.1 288.3L452.1 288.3Z" fill="#4a1a5c"/><path d="M459.3 287.8L461.3 291.4L457.3 291.4Z" fill="#4a1a5c"/><path d="M453.6 290.4L455.6 294L451.6 294Z" fill="#4a1a5c"/><path d="M456.2 299.3L458.2 302.9L454.2 302.9Z" fill="#4a1a5c"/><path d="M454.1 307.1L456.1 310.7L452.1 310.7Z" fill="#4a1a5c"/><path d="M459.3 310.3L461.3 313.9L457.3 313.9Z" fill="#4a1a5c"/><path d="M456.6 378.8L458.6 382.4L454.6 382.4Z" fill="#4a1a5c"/><rect x="468.46" y="277.06" width="3.68" height="3.68" fill="#3aa53a" /><rect x="468.46" y="284.86" width="3.68" height="3.68" fill="#3aa53a" /><rect x="468.46" y="291.66" width="3.68" height="3.68" fill="#3aa53a" /><rect x="468.46" y="297.36" width="3.68" height="3.68" fill="#3aa53a" /><rect x="468.46" y="305.76" width="3.68" height="3.68" fill="#3aa53a" /><rect x="465.46" y="311.96" width="3.68" height="3.68" fill="#3aa53a" /><rect x="471.36" y="313.26" width="3.68" height="3.68" fill="#3aa53a" /><rect x="468.36" y="361.06" width="3.68" height="3.68" fill="#3aa53a" /><line x1="410.5" y1="272.2" x2="410.5" y2="327.1" stroke="#231f20" stroke-width="1" /><line x1="409.4" y1="327.5" x2="412.4" y2="327.5" stroke="#231f20" stroke-width="1" /><line x1="410.5" y1="331.7" x2="410.5" y2="394.8" stroke="#231f20" stroke-width="1" /><line x1="409.4" y1="331.5" x2="412.4" y2="331.5" stroke="#231f20" stroke-width="1" /><line x1="410.4" y1="394.5" x2="479.8" y2="394.5" stroke="#231f20" stroke-width="1" /><line x1="408.3" y1="274.5" x2="410.9" y2="274.5" stroke="#231f20" stroke-width="1" /><text x="405.7" y="277" font-size="8.2" text-anchor="end">2.5×10<tspan dy="-3.44" font-size="6.4">8</tspan><tspan dy="3.44">&#8203;</tspan></text><line x1="408.3" y1="285.5" x2="410.9" y2="285.5" stroke="#231f20" stroke-width="1" /><text x="405.7" y="288.15" font-size="8.2" text-anchor="end">2×10<tspan dy="-3.44" font-size="6.4">8</tspan><tspan dy="3.44">&#8203;</tspan></text><line x1="408.3" y1="296.5" x2="410.9" y2="296.5" stroke="#231f20" stroke-width="1" /><text x="405.7" y="299.3" font-size="8.2" text-anchor="end">1.5×10<tspan dy="-3.44" font-size="6.4">8</tspan><tspan dy="3.44">&#8203;</tspan></text><line x1="408.3" y1="307.5" x2="410.9" y2="307.5" stroke="#231f20" stroke-width="1" /><text x="405.7" y="310.45" font-size="8.2" text-anchor="end">1×10<tspan dy="-3.44" font-size="6.4">8</tspan><tspan dy="3.44">&#8203;</tspan></text><line x1="408.3" y1="318.5" x2="410.9" y2="318.5" stroke="#231f20" stroke-width="1" /><text x="405.7" y="321.6" font-size="8.2" text-anchor="end">5×10<tspan dy="-3.44" font-size="6.4">7</tspan><tspan dy="3.44">&#8203;</tspan></text><line x1="408.3" y1="344.5" x2="410.9" y2="344.5" stroke="#231f20" stroke-width="1" /><text x="405.7" y="347.35" font-size="8.2" text-anchor="end">1×10<tspan dy="-3.44" font-size="6.4">7</tspan><tspan dy="3.44">&#8203;</tspan></text><line x1="408.3" y1="369.5" x2="410.9" y2="369.5" stroke="#231f20" stroke-width="1" /><text x="405.7" y="372.3" font-size="8.2" text-anchor="end">5×10<tspan dy="-3.44" font-size="6.4">6</tspan><tspan dy="3.44">&#8203;</tspan></text><line x1="408.3" y1="394.5" x2="410.9" y2="394.5" stroke="#231f20" stroke-width="1" /><text x="405.7" y="397.25" font-size="8.2" text-anchor="end">0</text><line x1="427.5" y1="394.3" x2="427.5" y2="396.8" stroke="#231f20" stroke-width="1" /><text x="427" y="407.81" font-size="7.8" text-anchor="middle">−8</text><line x1="463.5" y1="394.3" x2="463.5" y2="396.8" stroke="#231f20" stroke-width="1" /><text x="463.5" y="407.81" font-size="7.8" text-anchor="middle">−1</text><text x="445.5" y="420.87" font-size="9" text-anchor="middle" textLength="16" lengthAdjust="spacingAndGlyphs">Days</text><text transform="translate(368.5 333) rotate(-90)" x="0" y="2.52" font-size="9" text-anchor="middle" textLength="82.8" lengthAdjust="spacingAndGlyphs">Tumor flux (photons/sec)</text><line x1="419.9" y1="271.5" x2="434.1" y2="271.5" stroke="#3a3a3a" stroke-width="1" /><text x="427" y="269.5" font-size="8" text-anchor="middle">ns</text><line x1="456.2" y1="270.5" x2="470.1" y2="270.5" stroke="#3a3a3a" stroke-width="1" /><text x="463.6" y="269.5" font-size="8" text-anchor="middle">ns</text><path d="M421.6 233.4L423.7 237.18L419.5 237.18Z" fill="#2a1636"/><text x="426.9" y="237.24" font-size="8" textLength="44.7" lengthAdjust="spacingAndGlyphs">PBS (Group I)</text><rect x="419.06" y="243.76" width="3.68" height="3.68" fill="#3aa53a" /><text x="426.9" y="247.74" font-size="8" textLength="38.6" lengthAdjust="spacingAndGlyphs">tafasitamab</text><text x="426.9" y="256.34" font-size="8" textLength="31.2" lengthAdjust="spacingAndGlyphs">(Group II)</text><path d="M190.55 380.00L189.83 381.03L190.26 382.21L189.30 383.02L189.40 384.27L188.27 384.81L188.05 386.05L186.81 386.27L186.28 387.40L185.02 387.30L184.21 388.26L183.03 387.83L182.00 388.55L180.97 387.83L179.79 388.26L178.98 387.30L177.72 387.40L177.19 386.27L175.95 386.05L175.73 384.81L174.60 384.27L174.70 383.02L173.74 382.21L174.17 381.03L173.45 380.00L174.17 378.97L173.74 377.79L174.70 376.98L174.60 375.73L175.73 375.19L175.95 373.95L177.19 373.73L177.72 372.60L178.98 372.70L179.79 371.74L180.97 372.17L182.00 371.45L183.03 372.17L184.21 371.74L185.02 372.70L186.28 372.60L186.81 373.73L188.05 373.95L188.27 375.19L189.40 375.73L189.30 376.98L190.26 377.79L189.83 378.97 Z" fill="#f4a394" stroke="#e8887a" stroke-width="0.5"/><circle cx="182.6" cy="380.6" r="5.2" fill="#f6ab9c"/><circle cx="183.0" cy="380.8" r="3.3" fill="#e8725e"/><rect x="300.80" y="383.20" width="2.6" height="3.0" rx="0.8" fill="#3a7e9e" transform="rotate(0 302.10 384.70)"/><rect x="300.80" y="399.60" width="2.6" height="3.0" rx="0.8" fill="#3a7e9e" transform="rotate(-180 302.10 401.10)"/><rect x="307.90" y="387.30" width="2.6" height="3.0" rx="0.8" fill="#3a7e9e" transform="rotate(60 309.20 388.80)"/><rect x="293.70" y="387.30" width="2.6" height="3.0" rx="0.8" fill="#3a7e9e" transform="rotate(-60 295.00 388.80)"/><rect x="293.70" y="395.50" width="2.6" height="3.0" rx="0.8" fill="#3a7e9e" transform="rotate(-120 295.00 397.00)"/><rect x="307.90" y="395.50" width="2.6" height="3.0" rx="0.8" fill="#3a7e9e" transform="rotate(-240 309.20 397.00)"/><circle cx="302.1" cy="392.9" r="4.9" fill="#3fb778"/><circle cx="302.1" cy="392.9" r="3.4" fill="#0f9a48"/><text x="188.15" y="395.54" font-size="8.3" text-anchor="middle" textLength="56.3" lengthAdjust="spacingAndGlyphs">lciferase<tspan dy="-3.49" font-size="6.47">+</tspan><tspan dy="3.49"> 1x10</tspan><tspan dy="-3.49" font-size="6.47">6</tspan><tspan dy="3.49">&#8203;</tspan></text><text x="187.5" y="404.04" font-size="8.3" text-anchor="middle" textLength="35" lengthAdjust="spacingAndGlyphs">JeKo-1 i.v</text><text x="260.9" y="362.74" font-size="8.3" text-anchor="middle" textLength="48" lengthAdjust="spacingAndGlyphs">PBS (Group I)</text><text x="260.7" y="372.27" font-size="8.3" text-anchor="middle">or</text><text x="260.85" y="382.14" font-size="8.3" text-anchor="middle" textLength="77.5" lengthAdjust="spacingAndGlyphs">10 mg/kg tafasitamab</text><text x="260.45" y="391.74" font-size="8.3" text-anchor="middle" textLength="34.1" lengthAdjust="spacingAndGlyphs">(Group II)</text><text x="260.35" y="401.89" font-size="8.3" text-anchor="middle">i.p.</text><text x="333.5" y="391.54" font-size="8.3" text-anchor="middle" textLength="19" lengthAdjust="spacingAndGlyphs">1x10<tspan dy="-3.49" font-size="6.47">6</tspan><tspan dy="3.49">&#8203;</tspan></text><text x="333" y="400.74" font-size="8.3" text-anchor="middle" textLength="41" lengthAdjust="spacingAndGlyphs">CART19 i.v.</text><line x1="181.5" y1="406.3" x2="181.5" y2="412.5" stroke="#231f20" stroke-width="1" /><path d="M181 416L183 411.5L181 412.9L179 411.5Z" fill="#231f20"/><line x1="244.5" y1="404.7" x2="244.5" y2="412" stroke="#4b2160" stroke-width="1" /><path d="M244.1 416.2L246.4 411L244.1 412.4L241.8 411Z" fill="#4b2160"/><line x1="259.5" y1="404.7" x2="259.5" y2="412" stroke="#4b2160" stroke-width="1" /><path d="M259.8 416.2L262.1 411L259.8 412.4L257.5 411Z" fill="#4b2160"/><line x1="275.5" y1="404.7" x2="275.5" y2="412" stroke="#4b2160" stroke-width="1" /><path d="M275.4 416.2L277.7 411L275.4 412.4L273.1 411Z" fill="#4b2160"/><line x1="299.5" y1="404.7" x2="299.5" y2="412" stroke="#d9892f" stroke-width="1" /><path d="M299.2 416.2L301.5 411L299.2 412.4L296.9 411Z" fill="#d9892f"/><line x1="173" y1="424.5" x2="352" y2="424.5" stroke="#231f20" stroke-width="1.6" /><path d="M361.6 423.9L350.2 419.9L352.4 423.9L350.2 427.9Z" fill="#231f20"/><line x1="180.5" y1="419.2" x2="180.5" y2="429.6" stroke="#231f20" stroke-width="1.4" /><line x1="236.5" y1="419.2" x2="236.5" y2="429.6" stroke="#231f20" stroke-width="1.4" /><line x1="243.5" y1="419.2" x2="243.5" y2="429.6" stroke="#231f20" stroke-width="1.4" /><line x1="260.5" y1="419.2" x2="260.5" y2="429.6" stroke="#231f20" stroke-width="1.4" /><line x1="276.5" y1="419.2" x2="276.5" y2="429.6" stroke="#231f20" stroke-width="1.4" /><line x1="291.5" y1="419.2" x2="291.5" y2="429.6" stroke="#231f20" stroke-width="1.4" /><line x1="299.5" y1="419.2" x2="299.5" y2="429.6" stroke="#231f20" stroke-width="1.4" /><line x1="307.5" y1="419.2" x2="307.5" y2="429.6" stroke="#231f20" stroke-width="1.4" /><line x1="322.5" y1="419.2" x2="322.5" y2="429.6" stroke="#231f20" stroke-width="1.4" /><text x="181" y="437.24" font-size="7.6" text-anchor="middle">−14</text><text x="235.8" y="437.24" font-size="7.6" text-anchor="middle">−8</text><text x="244.2" y="437.24" font-size="7.6" text-anchor="middle">−7</text><text x="260.3" y="437.24" font-size="7.6" text-anchor="middle">−5</text><text x="276.2" y="437.24" font-size="7.6" text-anchor="middle">−3</text><text x="291.8" y="437.24" font-size="7.6" text-anchor="middle">−1</text><text x="299" y="437.24" font-size="7.6" text-anchor="middle">0</text><text x="306.9" y="437.24" font-size="7.6" text-anchor="middle">1</text><text x="355.3" y="437.24" font-size="8.3" text-anchor="middle" textLength="17" lengthAdjust="spacingAndGlyphs">Days</text><text x="180.75" y="447.44" font-size="8.3" text-anchor="middle" textLength="42.7" lengthAdjust="spacingAndGlyphs">NSG mouse</text><path d="M308.1 438.8V449.2H315" fill="none" stroke="#231f20" stroke-width="1.1"/><path d="M318.4 449.2L313.8 447.0L314.6 449.2L313.8 451.4Z" fill="#231f20"/><text x="319.9" y="446.84" font-size="8.3" textLength="43.3" lengthAdjust="spacingAndGlyphs">1. Euthanize</text><text x="319.9" y="454.94" font-size="8.3" textLength="61.6" lengthAdjust="spacingAndGlyphs">2. Harvest spleen</text><text x="319.9" y="463.14" font-size="8.3" textLength="25.4" lengthAdjust="spacingAndGlyphs">3. Flow</text><path d="M224.6 442.2H228.2 V439.6 Q228.2 438.8 229 438.8 H235.4 Q236.2 438.8 236.2 439.6 V442.2 H240.4 V462.4 H224.6 Z" fill="#3b3d40"/><rect x="229.2" y="439.6" width="6.4" height="2.4" fill="#55575a"/><rect x="226" y="443.2" width="13" height="14.6" fill="#46484b"/><path d="M225 458.2 H240 V462.4 H225 Z" fill="#55575a"/><circle cx="227.2" cy="446.5" r="0.7" fill="#a4a6a8"/><circle cx="227.2" cy="454.5" r="0.7" fill="#a4a6a8"/><circle cx="232.4" cy="440.8" r="0.7" fill="#a4a6a8"/><path d="M283.9 442.2H287.5 V439.6 Q287.5 438.8 288.3 438.8 H294.7 Q295.5 438.8 295.5 439.6 V442.2 H299.7 V462.4 H283.9 Z" fill="#3b3d40"/><rect x="288.5" y="439.6" width="6.4" height="2.4" fill="#55575a"/><rect x="285.3" y="443.2" width="13" height="14.6" fill="#46484b"/><path d="M284.3 458.2 H299.3 V462.4 H284.3 Z" fill="#55575a"/><circle cx="286.5" cy="446.5" r="0.7" fill="#a4a6a8"/><circle cx="286.5" cy="454.5" r="0.7" fill="#a4a6a8"/><circle cx="291.7" cy="440.8" r="0.7" fill="#a4a6a8"/><text x="231.6" y="472.74" font-size="8.3" text-anchor="middle" textLength="13" lengthAdjust="spacingAndGlyphs">IVIS</text><text x="291.1" y="472.74" font-size="8.3" text-anchor="middle" textLength="13" lengthAdjust="spacingAndGlyphs">IVIS</text><path d="M369.5 442.6 C370.2 440.2 374.8 440.0 377.8 442.0 C380.4 443.8 381.0 447.6 379.4 449.2 C378.2 450.2 376.6 448.8 375.6 447.6 C374.6 446.4 373.0 446.0 371.4 445.6 C369.9 445.2 369.2 444.0 369.5 442.6Z" fill="#a3262b"/><path d="M371.2 442.4 C373.6 441.6 376.6 442.6 378.0 444.4" fill="none" stroke="#c24a4a" stroke-width="0.7"/><path d="M350.2 460.2 L352 458.2 H374.6 L376 460 V478.6 H350.2 Z" fill="#e6e8ee" stroke="#c9ccd6" stroke-width="0.5"/><rect x="351" y="460.4" width="24.4" height="4.5" fill="#f4f5f8"/><rect x="354.6" y="466.4" width="18.4" height="1.3" fill="#2d86b8"/><rect x="351" y="469.5" width="24.4" height="8.6" fill="#dcdee8"/><rect x="372.5" y="468" width="2.2" height="10" fill="#b9bcc9"/><g><path d="M188 462.6 C192 461.2 196.2 459.2 199.8 458.4 C201.8 458 202.6 459.8 201.6 461.8" fill="none" stroke="#dea0aa" stroke-width="1"/><path d="M169.6 468 L169.2 475.2 M182.2 470.5 L182.4 477.4 M186.6 465.5 L190 467.6" fill="none" stroke="#e3a9b1" stroke-width="1.5" stroke-linecap="round"/><path d="M163 459.6 C163.8 456.2 166.8 453.2 171 452.9 C175 452.6 179.4 453 183 455 C187.8 457.4 190 461.6 189.6 465.8 C189.2 470 186 472.6 181.2 472.6 C177 472.6 173 471.6 170.6 469.6 C168.6 467.8 167.6 465.2 166.4 463.2 C164.8 462.4 163.4 461.2 163 459.6Z" fill="#f1f2f6" stroke="#d9ccd4" stroke-width="0.5"/><path d="M170 466 C174 470.5 182 471.5 187.5 467.5" fill="none" stroke="#e2e4ea" stroke-width="1.6"/><path d="M167.4 455.6 L168.2 451.6 L170.8 454.8Z" fill="#efe8ec" stroke="#d9ccd4" stroke-width="0.4"/><ellipse cx="178.3" cy="456.4" rx="2.9" ry="3.9" fill="#eba5a5"/><ellipse cx="178.6" cy="456.8" rx="1.7" ry="2.5" fill="#e08e8e"/><circle cx="170.5" cy="458.4" r="0.85" fill="#3a2a30"/><circle cx="163.3" cy="459.9" r="0.7" fill="#e8a0a8"/></g><rect x="54.1" y="522.15" width="11.6" height="63.45" fill="#9d7aae" /><rect x="72.8" y="537.68" width="11.6" height="47.92" fill="#b5d9a2" /><path d="M56.3 519.77L58.54 523.81L54.06 523.81Z" fill="#4a1a5c"/><path d="M59.9 519.24L62.14 523.27L57.66 523.27Z" fill="#4a1a5c"/><path d="M63.5 519.5L65.74 523.54L61.26 523.54Z" fill="#4a1a5c"/><line x1="78.5" y1="532.95" x2="78.5" y2="541.73" stroke="#3aa53a" stroke-width="1" /><line x1="76.6" y1="532.5" x2="80.6" y2="532.5" stroke="#3aa53a" stroke-width="1" /><line x1="76.6" y1="541.5" x2="80.6" y2="541.5" stroke="#3aa53a" stroke-width="1" /><rect x="76.81" y="526.64" width="3.58" height="3.58" fill="#3aa53a" /><rect x="76.81" y="533.59" width="3.58" height="3.58" fill="#3aa53a" /><rect x="76.81" y="538.58" width="3.58" height="3.58" fill="#3aa53a" /><line x1="46.5" y1="515.3" x2="46.5" y2="586.05" stroke="#231f20" stroke-width="1" /><line x1="45.75" y1="585.5" x2="91.5" y2="585.5" stroke="#231f20" stroke-width="1" /><line x1="43.2" y1="585.5" x2="46.2" y2="585.5" stroke="#231f20" stroke-width="1" /><text x="41.2" y="588.55" font-size="8.2" text-anchor="end">0</text><line x1="43.2" y1="572.5" x2="46.2" y2="572.5" stroke="#231f20" stroke-width="1" /><text x="41.2" y="575.05" font-size="8.2" text-anchor="end">20</text><line x1="43.2" y1="558.5" x2="46.2" y2="558.5" stroke="#231f20" stroke-width="1" /><text x="41.2" y="561.55" font-size="8.2" text-anchor="end">40</text><line x1="43.2" y1="545.5" x2="46.2" y2="545.5" stroke="#231f20" stroke-width="1" /><text x="41.2" y="548.05" font-size="8.2" text-anchor="end">60</text><line x1="43.2" y1="531.5" x2="46.2" y2="531.5" stroke="#231f20" stroke-width="1" /><text x="41.2" y="534.55" font-size="8.2" text-anchor="end">80</text><line x1="43.2" y1="518.5" x2="46.2" y2="518.5" stroke="#231f20" stroke-width="1" /><text x="41.2" y="521.05" font-size="8.2" text-anchor="end">100</text><line x1="59.5" y1="585.6" x2="59.5" y2="588" stroke="#231f20" stroke-width="1" /><line x1="78.5" y1="585.6" x2="78.5" y2="588" stroke="#231f20" stroke-width="1" /><line x1="59.7" y1="512.5" x2="79.2" y2="512.5" stroke="#3a3a3a" stroke-width="1" /><circle cx="69.4" cy="509.2" r="1.2" fill="#2a2a2a"/><text transform="translate(19.3 550.4) rotate(-90)" x="0" y="2.44" font-size="8.7" text-anchor="middle" textLength="75.2" lengthAdjust="spacingAndGlyphs">% CD69 positive T cells</text><rect x="137.75" y="544.18" width="11.9" height="41.22" fill="#9d7aae" /><rect x="157.05" y="560.16" width="11.9" height="25.24" fill="#b5d9a2" /><line x1="143.5" y1="538.29" x2="143.5" y2="550.07" stroke="#4a1a5c" stroke-width="1" /><line x1="141.7" y1="538.5" x2="145.7" y2="538.5" stroke="#4a1a5c" stroke-width="1" /><line x1="141.7" y1="550.5" x2="145.7" y2="550.5" stroke="#4a1a5c" stroke-width="1" /><path d="M143.7 530.75L145.94 534.78L141.46 534.78Z" fill="#4a1a5c"/><path d="M140.2 545.72L142.44 549.76L137.96 549.76Z" fill="#4a1a5c"/><path d="M147.2 545.3L149.44 549.34L144.96 549.34Z" fill="#4a1a5c"/><path d="M143.7 546.99L145.94 551.02L141.46 551.02Z" fill="#4a1a5c"/><rect x="158.21" y="554.33" width="3.58" height="3.58" fill="#3aa53a" /><rect x="164.71" y="555.43" width="3.58" height="3.58" fill="#3aa53a" /><rect x="161.71" y="560.89" width="3.58" height="3.58" fill="#3aa53a" /><line x1="130.5" y1="515.3" x2="130.5" y2="585.85" stroke="#231f20" stroke-width="1" /><line x1="130.05" y1="585.5" x2="174.8" y2="585.5" stroke="#231f20" stroke-width="1" /><line x1="127.5" y1="585.5" x2="130.5" y2="585.5" stroke="#231f20" stroke-width="1" /><text x="125.5" y="588.35" font-size="8.2" text-anchor="end">0</text><line x1="127.5" y1="568.5" x2="130.5" y2="568.5" stroke="#231f20" stroke-width="1" /><text x="125.5" y="571.53" font-size="8.2" text-anchor="end">20</text><line x1="127.5" y1="551.5" x2="130.5" y2="551.5" stroke="#231f20" stroke-width="1" /><text x="125.5" y="554.7" font-size="8.2" text-anchor="end">40</text><line x1="127.5" y1="534.5" x2="130.5" y2="534.5" stroke="#231f20" stroke-width="1" /><text x="125.5" y="537.88" font-size="8.2" text-anchor="end">60</text><line x1="127.5" y1="518.5" x2="130.5" y2="518.5" stroke="#231f20" stroke-width="1" /><text x="125.5" y="521.05" font-size="8.2" text-anchor="end">80</text><line x1="143.5" y1="585.4" x2="143.5" y2="587.8" stroke="#231f20" stroke-width="1" /><line x1="163.5" y1="585.4" x2="163.5" y2="587.8" stroke="#231f20" stroke-width="1" /><line x1="144" y1="524.5" x2="163.2" y2="524.5" stroke="#3a3a3a" stroke-width="1" /><circle cx="153.4" cy="520.9" r="1.2" fill="#2a2a2a"/><text transform="translate(108.3 550.3) rotate(-90)" x="0" y="2.44" font-size="8.7" text-anchor="middle" textLength="82.8" lengthAdjust="spacingAndGlyphs">% HLA-DR positive T cells</text><path d="M68.6 598.7L70.3 601.76L66.9 601.76Z" fill="#2a1636"/><text x="73.9" y="602.21" font-size="7.6" textLength="25.3" lengthAdjust="spacingAndGlyphs">Group I</text><rect x="108.78" y="598.38" width="3.04" height="3.04" fill="#3aa53a" /><text x="115.7" y="602.21" font-size="7.6" textLength="28.1" lengthAdjust="spacingAndGlyphs">Group II</text><rect x="236" y="502" width="39.2" height="11.6" fill="#6b2a80" /><text x="255.6" y="511.07" font-size="9.6" text-anchor="middle" fill="#ffffff" style="stroke:#ffffff" textLength="31.7" lengthAdjust="spacingAndGlyphs">Group I</text><rect x="339.2" y="501.8" width="39.2" height="11.8" fill="#3aa83a" /><text x="358.8" y="511.07" font-size="9.6" text-anchor="middle" fill="#ffffff" style="stroke:#ffffff" textLength="34.6" lengthAdjust="spacingAndGlyphs">Group II</text><clipPath id="fc3"><rect x="218.9" y="516.4" width="73.7" height="72.9"/></clipPath><g clip-path="url(#fc3)"><path d="M255.0 584.5L251.0 584.5L248.8 584.0L247.2 584.0L246.8 583.8L244.5 581.7L241.5 578.6L240.8 578.1L237.5 578.0L235.5 578.4L233.8 578.5L232.2 578.4L231.0 578.0L230.5 577.7L228.5 575.7L228.1 575.0L228.0 571.8L228.2 570.8L230.3 568.5L232.8 566.2L233.2 566.0L235.0 565.9L237.0 565.4L237.5 565.2L238.5 564.3L239.0 564.1L241.0 563.9L243.0 563.4L244.8 562.2L247.0 561.8L248.5 560.4L249.0 560.1L260.0 560.0L261.0 559.8L263.4 557.5L263.8 557.0L264.0 556.2L264.0 553.2L264.2 552.8L264.6 552.2L265.2 551.9L267.2 551.3L269.0 550.1L272.2 550.0L273.2 550.2L275.6 552.5L276.0 553.2L276.0 564.8L275.6 565.5L274.5 566.6L274.1 567.2L273.9 573.0L273.6 573.5L272.2 575.0L272.0 576.8L271.8 577.3L270.2 579.0L269.8 581.2L269.5 581.6L268.4 582.5L267.5 583.6L266.8 584.0L257.5 584.0L255.0 584.5Z" fill="#2e2a8e" fill-rule="evenodd"/><path d="M255.5 583.6L254.5 583.7L251.2 583.7L250.5 583.6L249.0 582.9L247.2 582.5L246.3 581.8L241.5 577.0L240.8 576.6L237.2 576.6L235.6 577.5L234.8 577.7L233.2 577.7L232.2 577.4L231.2 576.7L229.7 575.0L229.5 574.2L229.5 572.8L229.5 571.5L229.7 571.0L230.3 570.2L233.0 567.7L235.0 567.4L236.4 566.5L239.0 565.6L241.0 565.4L242.4 564.5L244.8 563.4L247.2 563.0L248.8 561.8L249.2 561.6L260.0 561.5L261.0 561.3L263.3 559.2L265.0 557.3L265.4 555.2L265.5 553.5L266.0 552.8L268.5 551.5L269.2 551.2L271.5 551.3L273.0 551.6L274.4 553.0L274.7 554.2L274.8 556.8L274.5 559.5L274.5 564.5L274.2 565.2L272.6 567.0L272.5 567.8L272.4 572.8L272.2 573.2L270.6 575.0L270.3 577.0L268.8 578.8L268.0 580.0L266.9 580.8L266.0 582.0L265.5 582.3L261.2 582.8L257.2 582.8L255.5 583.6Z" fill="#2259cc" fill-rule="evenodd"/><path d="M255.0 582.5L254.2 582.6L251.2 582.6L248.2 581.6L247.2 580.9L244.1 577.8L243.4 576.8L243.2 575.5L243.0 575.0L241.8 574.2L241.4 573.5L241.2 569.5L241.3 568.5L241.6 568.0L243.0 567.0L243.2 566.5L243.3 565.5L243.6 565.0L245.0 564.2L247.2 564.1L249.5 563.3L260.0 563.3L261.0 563.1L263.0 561.5L264.5 561.2L265.0 561.0L265.2 560.5L265.4 559.0L267.0 555.0L267.3 553.5L267.6 553.0L268.5 552.4L269.5 552.2L271.0 552.2L272.2 552.7L272.8 553.0L273.3 553.8L273.7 554.5L273.8 555.5L273.7 557.2L272.9 559.5L272.7 563.0L272.5 563.8L272.2 564.2L271.5 564.6L270.5 564.8L267.5 564.8L267.0 565.1L266.8 565.5L266.8 566.8L267.1 570.8L267.5 571.2L268.4 572.0L268.7 572.8L268.7 576.2L268.5 577.0L267.9 577.8L265.8 579.9L264.8 580.7L263.0 581.0L261.0 581.8L257.0 581.9L255.0 582.5ZM233.5 576.5L233.0 576.5L232.5 576.2L231.5 575.0L231.3 574.2L231.4 572.8L231.8 571.8L233.1 571.0L233.8 569.8L234.2 569.5L234.8 569.5L235.2 569.6L236.2 570.5L236.5 571.0L236.6 571.5L236.2 572.2L235.0 573.0L234.8 573.5L234.7 575.0L234.5 575.8L234.2 576.2L233.5 576.5Z" fill="#22a5de" fill-rule="evenodd"/><path d="M269.0 562.0L268.3 561.8L267.9 561.0L267.8 558.2L267.9 557.0L268.5 554.8L269.0 553.9L269.8 553.5L271.0 553.4L271.8 553.8L272.5 554.6L272.7 555.5L272.6 556.8L271.2 559.7L269.8 561.7L269.0 562.0ZM257.5 580.5L256.5 580.5L254.5 580.2L249.2 580.1L248.5 579.7L246.1 577.2L245.8 576.5L245.7 575.0L245.4 574.5L244.4 573.5L244.1 572.8L244.3 572.2L245.3 571.5L245.7 571.0L245.8 567.2L246.1 566.5L246.5 566.1L247.0 565.9L247.8 565.8L262.2 565.8L263.2 566.0L263.9 566.5L265.2 568.3L265.5 569.0L265.6 571.2L266.2 573.5L266.2 576.2L266.0 577.0L265.5 577.7L264.0 579.0L263.2 579.5L260.8 580.2L259.2 580.2L257.5 580.5Z" fill="#3db84a" fill-rule="evenodd"/><path d="M271.0 557.5L270.5 557.6L270.2 557.2L269.8 556.5L269.6 555.5L269.8 554.8L270.2 554.4L270.8 554.2L271.5 554.5L271.9 555.2L271.5 556.8L271.0 557.5ZM257.2 579.3L256.5 579.2L255.0 578.6L252.5 578.4L251.0 578.0L250.3 577.5L248.2 575.2L248.0 574.2L248.1 571.0L248.5 570.3L250.5 568.3L251.0 568.0L252.0 567.7L253.2 567.5L258.5 567.5L260.0 567.7L260.8 567.9L261.5 568.3L263.8 570.8L264.0 571.5L264.0 574.2L263.9 575.0L263.6 575.5L261.3 577.8L260.8 578.0L259.2 578.1L257.2 579.3Z" fill="#a4d43a" fill-rule="evenodd"/><path d="M257.0 577.8L252.8 577.3L252.2 577.0L250.8 575.7L250.2 575.0L250.0 574.2L250.1 571.2L250.8 570.2L251.8 569.2L252.5 568.8L253.8 568.5L259.0 568.6L260.2 569.2L261.8 571.0L262.0 571.8L262.0 574.2L261.9 574.8L261.7 575.2L260.8 575.9L259.0 576.2L257.0 577.8Z" fill="#f4e424" fill-rule="evenodd"/><path d="M257.0 575.8L255.8 576.0L254.8 575.8L252.4 573.5L252.0 572.8L252.0 571.5L252.2 571.0L252.8 570.3L253.5 570.0L254.8 570.0L256.2 569.6L257.2 569.6L258.8 569.9L259.7 570.8L260.0 571.8L260.0 572.8L259.8 573.2L259.4 573.8L257.0 575.8Z" fill="#f6a020" fill-rule="evenodd"/><path d="M257.0 573.8L256.2 574.0L255.2 573.9L254.6 573.5L254.3 573.0L254.4 572.5L254.6 572.2L256.2 571.0L257.0 570.7L257.8 571.1L258.0 571.5L258.0 572.0L257.8 573.0L257.0 573.8Z" fill="#e8381e" fill-rule="evenodd"/></g><line x1="245.5" y1="516.4" x2="245.5" y2="589.3" stroke="#555" stroke-width="1" /><line x1="218.9" y1="565.5" x2="292.6" y2="565.5" stroke="#555" stroke-width="1" /><rect x="218.9" y="516.4" width="73.7" height="72.9" fill="none" stroke="#231f20" stroke-width="0.95"/><clipPath id="fc4"><rect x="322.3" y="516.4" width="72.6" height="72.9"/></clipPath><g clip-path="url(#fc4)"><path d="M351.0 583.5L343.2 583.5L340.8 583.0L339.2 583.0L338.5 582.7L337.4 581.8L335.5 581.2L334.8 580.9L330.4 576.5L330.0 575.8L329.8 574.0L328.2 572.2L328.0 571.5L328.0 568.8L328.1 568.0L328.4 567.5L330.8 565.1L333.2 564.3L334.5 563.3L335.2 563.0L336.8 563.0L339.2 562.5L344.8 562.4L345.5 562.2L346.8 561.2L347.5 561.0L359.0 560.9L359.5 560.6L359.9 560.0L360.0 558.2L360.2 557.8L360.6 557.2L361.5 556.6L361.9 556.0L362.0 552.2L362.2 551.7L362.8 551.1L365.2 550.3L366.5 549.3L367.2 549.0L376.2 549.0L377.0 549.1L377.5 549.3L379.7 551.5L379.9 552.0L380.0 553.0L380.0 555.5L379.8 556.2L378.9 557.5L378.2 558.8L376.8 560.0L376.8 560.2L377.0 560.8L377.7 561.5L377.9 562.0L378.0 563.0L377.9 564.0L377.5 564.7L376.3 565.8L376.0 566.5L376.0 567.5L376.2 568.0L377.6 569.5L377.9 570.0L378.0 571.5L377.6 572.5L375.5 574.7L374.5 575.2L373.0 575.5L369.2 575.6L368.5 575.8L366.5 577.5L365.7 578.5L363.2 580.8L362.8 581.0L361.0 581.1L359.0 581.6L358.2 582.0L357.3 582.8L356.8 583.0L353.5 583.0L351.0 583.5ZM369.1 564.8L369.7 564.2L369.9 563.8L370.1 562.0L371.1 560.5L371.2 560.2L371.0 559.8L370.5 559.6L368.5 559.4L366.5 559.0L365.2 559.0L364.5 559.4L364.1 560.0L364.0 561.0L364.1 561.8L364.5 562.4L367.0 564.8L368.2 565.0L369.1 564.8Z" fill="#2e2a8e" fill-rule="evenodd"/><path d="M350.8 582.8L343.0 582.7L341.0 581.9L339.2 581.6L335.8 580.2L331.7 576.2L331.5 575.8L331.2 574.0L329.6 572.0L329.4 571.2L329.4 568.8L329.7 567.8L331.2 566.2L332.2 565.5L334.8 564.3L337.0 564.1L338.8 563.3L345.0 563.2L347.5 562.4L352.5 562.4L356.0 562.1L359.2 562.4L362.8 562.4L363.8 563.2L366.3 565.8L366.6 566.2L366.7 567.5L367.0 567.9L367.5 568.0L368.8 568.0L370.2 567.8L370.2 567.5L369.6 566.8L369.5 566.2L369.9 565.5L371.3 564.0L371.5 562.2L372.1 560.5L371.9 559.8L371.5 559.2L371.0 558.9L368.8 558.7L367.0 557.9L364.8 557.5L364.0 557.2L363.6 556.8L363.4 556.0L363.5 552.2L363.9 551.8L364.3 551.5L366.8 550.3L367.5 550.1L373.0 550.0L375.8 550.1L377.0 550.2L377.8 550.7L378.5 551.5L378.8 552.2L379.0 554.0L378.8 555.8L377.8 558.0L376.2 559.5L376.0 560.0L376.0 560.8L376.6 562.5L376.6 563.5L376.4 564.0L374.9 565.8L374.2 567.0L373.4 567.8L375.0 568.5L375.8 569.2L376.4 570.0L376.6 570.5L376.6 571.5L376.4 572.0L376.1 572.5L374.6 574.0L373.5 574.6L372.5 574.8L369.0 574.8L367.5 575.3L366.8 575.9L363.5 579.1L362.8 579.6L361.0 579.9L359.5 580.6L356.5 581.7L353.2 581.9L351.5 582.6L350.8 582.8Z" fill="#2259cc" fill-rule="evenodd"/><path d="M374.5 560.1L374.0 560.2L373.5 560.1L372.0 558.6L371.2 558.1L369.0 557.7L366.2 556.7L365.5 556.2L365.2 555.8L365.1 555.0L365.1 552.8L365.4 552.0L366.6 551.2L367.8 550.9L372.8 550.5L376.2 550.9L377.0 551.1L377.5 551.5L378.0 552.2L378.2 553.5L378.2 554.8L377.9 556.0L377.0 557.8L374.5 560.1ZM350.8 581.8L343.2 581.8L340.2 580.7L338.8 579.9L337.2 579.8L336.7 579.5L333.4 576.2L333.2 575.8L332.9 574.0L331.3 572.0L331.1 571.2L331.1 568.8L331.4 567.8L332.9 566.2L334.5 565.3L335.2 565.1L337.2 565.0L339.2 564.2L352.5 564.1L354.8 563.1L356.5 563.1L357.6 563.2L359.2 564.0L362.2 564.1L363.0 564.3L363.9 565.0L364.7 566.0L365.1 568.0L365.6 568.5L366.2 568.8L367.0 569.0L368.2 569.0L370.8 568.7L371.8 568.8L373.6 569.2L374.2 569.6L374.7 570.0L374.9 571.0L374.7 572.0L373.9 573.0L373.0 573.7L372.2 573.8L367.2 573.9L366.5 574.4L363.0 577.9L362.0 578.6L358.9 579.8L357.0 580.1L355.5 580.8L352.8 581.0L350.8 581.8Z" fill="#22a5de" fill-rule="evenodd"/><path d="M375.0 557.6L373.8 557.7L372.8 557.5L370.2 556.3L368.4 555.0L368.0 554.6L367.8 554.0L367.7 552.8L367.9 552.2L368.2 551.9L369.0 551.7L370.8 551.6L373.0 551.2L375.0 551.6L376.5 552.2L376.9 552.8L377.2 553.5L377.2 554.5L376.9 555.5L376.3 556.5L375.8 557.1L375.0 557.6ZM354.5 579.3L347.5 579.3L346.4 579.0L345.4 577.8L344.2 576.9L343.9 576.5L343.7 575.5L343.6 572.0L343.2 571.5L342.2 571.3L341.2 571.3L340.7 571.5L339.9 572.8L338.9 573.5L338.6 574.0L338.7 574.5L339.9 575.2L340.5 576.4L341.6 577.0L342.0 577.5L342.1 578.2L341.9 578.8L341.2 579.1L340.8 578.9L339.5 577.6L338.1 576.8L337.4 575.5L336.4 575.0L336.0 574.6L335.8 574.0L335.6 572.0L335.2 571.5L334.2 570.9L333.8 570.2L333.7 569.0L333.9 568.0L334.5 567.2L335.2 566.8L338.5 566.7L339.6 567.0L340.0 567.4L340.5 568.3L341.0 568.4L341.5 568.1L342.1 567.2L342.5 567.0L343.2 566.7L344.5 566.7L345.2 566.8L345.8 567.1L346.4 568.2L346.8 568.5L347.5 568.7L348.5 568.7L349.2 568.3L350.1 567.2L350.8 566.8L352.0 566.5L355.0 566.0L355.6 565.8L356.2 565.1L356.8 564.9L357.2 565.1L359.0 566.2L360.8 566.6L361.5 566.9L363.8 569.5L364.2 570.2L364.3 573.0L364.1 574.0L363.3 575.0L360.9 577.2L359.0 577.8L357.2 578.5L354.5 579.3ZM339.4 570.2L339.4 569.8L339.0 569.6L338.8 569.8L338.7 570.0L338.8 570.2L339.0 570.4L339.4 570.2ZM345.2 570.2L345.3 569.8L345.0 569.6L344.8 569.8L344.7 570.2L345.0 570.4L345.2 570.2ZM371.5 571.0L371.0 571.1L370.5 571.0L370.2 570.8L370.1 570.2L370.3 570.0L370.8 569.8L371.2 569.8L371.7 570.0L371.9 570.5L371.5 571.0Z" fill="#3db84a" fill-rule="evenodd"/><path d="M375.0 556.3L374.2 556.5L373.2 556.4L372.7 556.2L372.0 555.8L371.7 555.0L371.5 554.0L371.7 552.8L372.1 552.2L372.8 552.0L373.8 552.1L375.2 552.7L376.1 553.5L376.3 554.0L376.2 554.5L375.6 555.8L375.0 556.3ZM356.2 577.5L352.8 577.5L351.7 577.2L350.8 576.9L348.2 574.3L348.0 573.8L348.0 572.5L348.2 571.8L348.5 571.3L352.2 567.9L353.8 567.2L357.0 566.6L357.8 566.9L359.9 568.0L361.7 569.8L362.0 570.5L362.0 573.2L361.7 574.2L359.9 576.0L357.5 577.2L356.2 577.5Z" fill="#a4d43a" fill-rule="evenodd"/><path d="M374.8 554.8L373.8 555.0L373.1 554.8L372.7 554.2L372.8 553.8L372.9 553.5L373.5 553.3L374.5 553.5L375.0 553.8L375.1 554.2L374.8 554.8ZM357.2 576.3L355.8 576.5L353.5 576.5L352.8 576.3L351.5 575.5L350.5 574.5L350.1 573.8L350.0 572.5L350.3 571.8L353.5 568.5L354.8 567.8L356.5 567.6L357.5 567.8L358.5 568.5L359.5 569.5L360.0 570.1L360.3 570.8L360.5 572.2L360.1 573.8L358.5 575.5L357.2 576.3Z" fill="#f4e424" fill-rule="evenodd"/><path d="M356.2 575.3L355.0 575.4L353.5 575.2L352.5 574.5L352.2 574.0L352.0 573.5L352.0 572.5L352.3 571.8L354.5 569.5L355.0 569.2L355.5 569.0L356.5 569.0L357.2 569.3L358.8 570.8L359.3 571.8L359.2 572.5L358.8 573.2L357.2 574.8L356.2 575.3Z" fill="#f6a020" fill-rule="evenodd"/><path d="M355.2 574.3L354.7 574.2L354.1 573.8L354.0 572.8L354.2 572.0L354.8 571.3L355.2 571.1L356.2 571.0L357.0 571.2L357.6 571.8L357.6 572.2L355.8 574.0L355.2 574.3Z" fill="#e8381e" fill-rule="evenodd"/></g><line x1="349.5" y1="516.4" x2="349.5" y2="589.3" stroke="#555" stroke-width="1" /><line x1="322.3" y1="562.5" x2="394.9" y2="562.5" stroke="#555" stroke-width="1" /><rect x="322.3" y="516.4" width="72.6" height="72.9" fill="none" stroke="#231f20" stroke-width="0.95"/><text x="220.4" y="525.11" font-size="7.8">Q1</text><text x="220.4" y="534.31" font-size="7.8">0</text><text x="289.3" y="525.11" font-size="7.8" text-anchor="end">Q2</text><text x="289.3" y="534.31" font-size="7.8" text-anchor="end">21.3</text><text x="220.4" y="577.41" font-size="7.8">Q4</text><text x="220.4" y="587.11" font-size="7.8">12.0</text><text x="289.3" y="577.41" font-size="7.8" text-anchor="end">Q3</text><text x="289.3" y="587.11" font-size="7.8" text-anchor="end">66.7</text><text x="214.3" y="521.89" font-size="7.2" text-anchor="end">10<tspan dy="-3.02" font-size="5.62">7</tspan><tspan dy="3.02">&#8203;</tspan></text><text x="214.3" y="531.49" font-size="7.2" text-anchor="end">10<tspan dy="-3.02" font-size="5.62">6</tspan><tspan dy="3.02">&#8203;</tspan></text><text x="214.3" y="541.59" font-size="7.2" text-anchor="end">10<tspan dy="-3.02" font-size="5.62">5</tspan><tspan dy="3.02">&#8203;</tspan></text><text x="214.3" y="551.79" font-size="7.2" text-anchor="end">10<tspan dy="-3.02" font-size="5.62">4</tspan><tspan dy="3.02">&#8203;</tspan></text><text x="214.3" y="561.99" font-size="7.2" text-anchor="end">10<tspan dy="-3.02" font-size="5.62">3</tspan><tspan dy="3.02">&#8203;</tspan></text><text x="214.3" y="575.49" font-size="7.2" text-anchor="end">0</text><text x="214.3" y="586.39" font-size="7.2" text-anchor="end">−10<tspan dy="-3.02" font-size="5.62">3</tspan><tspan dy="3.02">&#8203;</tspan></text><line x1="216.7" y1="519.5" x2="218.9" y2="519.5" stroke="#231f20" stroke-width="1" /><line x1="216.7" y1="528.5" x2="218.9" y2="528.5" stroke="#231f20" stroke-width="1" /><line x1="216.7" y1="539.5" x2="218.9" y2="539.5" stroke="#231f20" stroke-width="1" /><line x1="216.7" y1="549.5" x2="218.9" y2="549.5" stroke="#231f20" stroke-width="1" /><line x1="216.7" y1="559.5" x2="218.9" y2="559.5" stroke="#231f20" stroke-width="1" /><line x1="216.7" y1="572.5" x2="218.9" y2="572.5" stroke="#231f20" stroke-width="1" /><line x1="216.7" y1="583.5" x2="218.9" y2="583.5" stroke="#231f20" stroke-width="1" /><line x1="217.7" y1="519.3" x2="218.9" y2="519.3" stroke="#231f20" stroke-width="0.5" /><line x1="217.7" y1="522.69" x2="218.9" y2="522.69" stroke="#231f20" stroke-width="0.5" /><line x1="217.7" y1="526.09" x2="218.9" y2="526.09" stroke="#231f20" stroke-width="0.5" /><line x1="217.7" y1="529.48" x2="218.9" y2="529.48" stroke="#231f20" stroke-width="0.5" /><line x1="217.7" y1="532.88" x2="218.9" y2="532.88" stroke="#231f20" stroke-width="0.5" /><line x1="217.7" y1="536.27" x2="218.9" y2="536.27" stroke="#231f20" stroke-width="0.5" /><line x1="217.7" y1="539.67" x2="218.9" y2="539.67" stroke="#231f20" stroke-width="0.5" /><line x1="217.7" y1="543.06" x2="218.9" y2="543.06" stroke="#231f20" stroke-width="0.5" /><line x1="217.7" y1="546.46" x2="218.9" y2="546.46" stroke="#231f20" stroke-width="0.5" /><line x1="217.7" y1="549.85" x2="218.9" y2="549.85" stroke="#231f20" stroke-width="0.5" /><line x1="217.7" y1="553.25" x2="218.9" y2="553.25" stroke="#231f20" stroke-width="0.5" /><line x1="217.7" y1="556.64" x2="218.9" y2="556.64" stroke="#231f20" stroke-width="0.5" /><line x1="217.7" y1="560.04" x2="218.9" y2="560.04" stroke="#231f20" stroke-width="0.5" /><line x1="217.7" y1="563.43" x2="218.9" y2="563.43" stroke="#231f20" stroke-width="0.5" /><line x1="217.7" y1="566.83" x2="218.9" y2="566.83" stroke="#231f20" stroke-width="0.5" /><line x1="217.7" y1="570.22" x2="218.9" y2="570.22" stroke="#231f20" stroke-width="0.5" /><line x1="217.7" y1="573.62" x2="218.9" y2="573.62" stroke="#231f20" stroke-width="0.5" /><line x1="217.7" y1="577.01" x2="218.9" y2="577.01" stroke="#231f20" stroke-width="0.5" /><line x1="217.7" y1="580.41" x2="218.9" y2="580.41" stroke="#231f20" stroke-width="0.5" /><line x1="217.7" y1="583.8" x2="218.9" y2="583.8" stroke="#231f20" stroke-width="0.5" /><text x="238.9" y="599.89" font-size="7.2" text-anchor="middle">0</text><line x1="238.5" y1="589.3" x2="238.5" y2="591.3" stroke="#231f20" stroke-width="1" /><text x="257.5" y="599.89" font-size="7.2" text-anchor="middle">10<tspan dy="-3.02" font-size="5.62">4</tspan><tspan dy="3.02">&#8203;</tspan></text><line x1="257.5" y1="589.3" x2="257.5" y2="591.3" stroke="#231f20" stroke-width="1" /><text x="278.5" y="599.89" font-size="7.2" text-anchor="middle">10<tspan dy="-3.02" font-size="5.62">6</tspan><tspan dy="3.02">&#8203;</tspan></text><line x1="278.5" y1="589.3" x2="278.5" y2="591.3" stroke="#231f20" stroke-width="1" /><line x1="238.9" y1="589.3" x2="238.9" y2="590.5" stroke="#231f20" stroke-width="0.5" /><line x1="242.67" y1="589.3" x2="242.67" y2="590.5" stroke="#231f20" stroke-width="0.5" /><line x1="246.44" y1="589.3" x2="246.44" y2="590.5" stroke="#231f20" stroke-width="0.5" /><line x1="250.21" y1="589.3" x2="250.21" y2="590.5" stroke="#231f20" stroke-width="0.5" /><line x1="253.98" y1="589.3" x2="253.98" y2="590.5" stroke="#231f20" stroke-width="0.5" /><line x1="257.75" y1="589.3" x2="257.75" y2="590.5" stroke="#231f20" stroke-width="0.5" /><line x1="261.52" y1="589.3" x2="261.52" y2="590.5" stroke="#231f20" stroke-width="0.5" /><line x1="265.28" y1="589.3" x2="265.28" y2="590.5" stroke="#231f20" stroke-width="0.5" /><line x1="269.05" y1="589.3" x2="269.05" y2="590.5" stroke="#231f20" stroke-width="0.5" /><line x1="272.82" y1="589.3" x2="272.82" y2="590.5" stroke="#231f20" stroke-width="0.5" /><line x1="276.59" y1="589.3" x2="276.59" y2="590.5" stroke="#231f20" stroke-width="0.5" /><line x1="280.36" y1="589.3" x2="280.36" y2="590.5" stroke="#231f20" stroke-width="0.5" /><line x1="284.13" y1="589.3" x2="284.13" y2="590.5" stroke="#231f20" stroke-width="0.5" /><line x1="287.9" y1="589.3" x2="287.9" y2="590.5" stroke="#231f20" stroke-width="0.5" /><text x="323.8" y="525.11" font-size="7.8">Q1</text><text x="323.8" y="534.31" font-size="7.8">0</text><text x="391.6" y="525.11" font-size="7.8" text-anchor="end">Q2</text><text x="391.6" y="534.31" font-size="7.8" text-anchor="end">19.0</text><text x="323.8" y="577.41" font-size="7.8">Q4</text><text x="323.8" y="587.11" font-size="7.8">30.7</text><text x="391.6" y="577.41" font-size="7.8" text-anchor="end">Q3</text><text x="391.6" y="587.11" font-size="7.8" text-anchor="end">50.3</text><text x="317.7" y="521.89" font-size="7.2" text-anchor="end">10<tspan dy="-3.02" font-size="5.62">7</tspan><tspan dy="3.02">&#8203;</tspan></text><text x="317.7" y="531.49" font-size="7.2" text-anchor="end">10<tspan dy="-3.02" font-size="5.62">6</tspan><tspan dy="3.02">&#8203;</tspan></text><text x="317.7" y="541.59" font-size="7.2" text-anchor="end">10<tspan dy="-3.02" font-size="5.62">5</tspan><tspan dy="3.02">&#8203;</tspan></text><text x="317.7" y="551.79" font-size="7.2" text-anchor="end">10<tspan dy="-3.02" font-size="5.62">4</tspan><tspan dy="3.02">&#8203;</tspan></text><text x="317.7" y="561.99" font-size="7.2" text-anchor="end">10<tspan dy="-3.02" font-size="5.62">3</tspan><tspan dy="3.02">&#8203;</tspan></text><text x="317.7" y="575.49" font-size="7.2" text-anchor="end">0</text><text x="317.7" y="586.39" font-size="7.2" text-anchor="end">−10<tspan dy="-3.02" font-size="5.62">3</tspan><tspan dy="3.02">&#8203;</tspan></text><line x1="320.1" y1="519.5" x2="322.3" y2="519.5" stroke="#231f20" stroke-width="1" /><line x1="320.1" y1="528.5" x2="322.3" y2="528.5" stroke="#231f20" stroke-width="1" /><line x1="320.1" y1="539.5" x2="322.3" y2="539.5" stroke="#231f20" stroke-width="1" /><line x1="320.1" y1="549.5" x2="322.3" y2="549.5" stroke="#231f20" stroke-width="1" /><line x1="320.1" y1="559.5" x2="322.3" y2="559.5" stroke="#231f20" stroke-width="1" /><line x1="320.1" y1="572.5" x2="322.3" y2="572.5" stroke="#231f20" stroke-width="1" /><line x1="320.1" y1="583.5" x2="322.3" y2="583.5" stroke="#231f20" stroke-width="1" /><line x1="321.1" y1="519.3" x2="322.3" y2="519.3" stroke="#231f20" stroke-width="0.5" /><line x1="321.1" y1="522.69" x2="322.3" y2="522.69" stroke="#231f20" stroke-width="0.5" /><line x1="321.1" y1="526.09" x2="322.3" y2="526.09" stroke="#231f20" stroke-width="0.5" /><line x1="321.1" y1="529.48" x2="322.3" y2="529.48" stroke="#231f20" stroke-width="0.5" /><line x1="321.1" y1="532.88" x2="322.3" y2="532.88" stroke="#231f20" stroke-width="0.5" /><line x1="321.1" y1="536.27" x2="322.3" y2="536.27" stroke="#231f20" stroke-width="0.5" /><line x1="321.1" y1="539.67" x2="322.3" y2="539.67" stroke="#231f20" stroke-width="0.5" /><line x1="321.1" y1="543.06" x2="322.3" y2="543.06" stroke="#231f20" stroke-width="0.5" /><line x1="321.1" y1="546.46" x2="322.3" y2="546.46" stroke="#231f20" stroke-width="0.5" /><line x1="321.1" y1="549.85" x2="322.3" y2="549.85" stroke="#231f20" stroke-width="0.5" /><line x1="321.1" y1="553.25" x2="322.3" y2="553.25" stroke="#231f20" stroke-width="0.5" /><line x1="321.1" y1="556.64" x2="322.3" y2="556.64" stroke="#231f20" stroke-width="0.5" /><line x1="321.1" y1="560.04" x2="322.3" y2="560.04" stroke="#231f20" stroke-width="0.5" /><line x1="321.1" y1="563.43" x2="322.3" y2="563.43" stroke="#231f20" stroke-width="0.5" /><line x1="321.1" y1="566.83" x2="322.3" y2="566.83" stroke="#231f20" stroke-width="0.5" /><line x1="321.1" y1="570.22" x2="322.3" y2="570.22" stroke="#231f20" stroke-width="0.5" /><line x1="321.1" y1="573.62" x2="322.3" y2="573.62" stroke="#231f20" stroke-width="0.5" /><line x1="321.1" y1="577.01" x2="322.3" y2="577.01" stroke="#231f20" stroke-width="0.5" /><line x1="321.1" y1="580.41" x2="322.3" y2="580.41" stroke="#231f20" stroke-width="0.5" /><line x1="321.1" y1="583.8" x2="322.3" y2="583.8" stroke="#231f20" stroke-width="0.5" /><text x="342.3" y="599.89" font-size="7.2" text-anchor="middle">0</text><line x1="342.5" y1="589.3" x2="342.5" y2="591.3" stroke="#231f20" stroke-width="1" /><text x="360.9" y="599.89" font-size="7.2" text-anchor="middle">10<tspan dy="-3.02" font-size="5.62">4</tspan><tspan dy="3.02">&#8203;</tspan></text><line x1="360.5" y1="589.3" x2="360.5" y2="591.3" stroke="#231f20" stroke-width="1" /><text x="381.9" y="599.89" font-size="7.2" text-anchor="middle">10<tspan dy="-3.02" font-size="5.62">6</tspan><tspan dy="3.02">&#8203;</tspan></text><line x1="381.5" y1="589.3" x2="381.5" y2="591.3" stroke="#231f20" stroke-width="1" /><line x1="342.3" y1="589.3" x2="342.3" y2="590.5" stroke="#231f20" stroke-width="0.5" /><line x1="346.07" y1="589.3" x2="346.07" y2="590.5" stroke="#231f20" stroke-width="0.5" /><line x1="349.84" y1="589.3" x2="349.84" y2="590.5" stroke="#231f20" stroke-width="0.5" /><line x1="353.61" y1="589.3" x2="353.61" y2="590.5" stroke="#231f20" stroke-width="0.5" /><line x1="357.38" y1="589.3" x2="357.38" y2="590.5" stroke="#231f20" stroke-width="0.5" /><line x1="361.15" y1="589.3" x2="361.15" y2="590.5" stroke="#231f20" stroke-width="0.5" /><line x1="364.92" y1="589.3" x2="364.92" y2="590.5" stroke="#231f20" stroke-width="0.5" /><line x1="368.68" y1="589.3" x2="368.68" y2="590.5" stroke="#231f20" stroke-width="0.5" /><line x1="372.45" y1="589.3" x2="372.45" y2="590.5" stroke="#231f20" stroke-width="0.5" /><line x1="376.22" y1="589.3" x2="376.22" y2="590.5" stroke="#231f20" stroke-width="0.5" /><line x1="379.99" y1="589.3" x2="379.99" y2="590.5" stroke="#231f20" stroke-width="0.5" /><line x1="383.76" y1="589.3" x2="383.76" y2="590.5" stroke="#231f20" stroke-width="0.5" /><line x1="387.53" y1="589.3" x2="387.53" y2="590.5" stroke="#231f20" stroke-width="0.5" /><line x1="391.3" y1="589.3" x2="391.3" y2="590.5" stroke="#231f20" stroke-width="0.5" /><line x1="192.5" y1="524.5" x2="192.5" y2="578.8" stroke="#231f20" stroke-width="1" /><path d="M192.8 516.6L196.6 525.4L192.8 523.8L189 525.4Z" fill="#231f20"/><text transform="translate(192.8 592.4) rotate(-90)" x="0" y="2.95" font-size="8.2" text-anchor="middle" textLength="20.4" lengthAdjust="spacingAndGlyphs">7-AAD</text><text x="198.5" y="612.7" font-size="8.6" textLength="33.5" lengthAdjust="spacingAndGlyphs">Annexin V</text><line x1="234.2" y1="610.5" x2="385.5" y2="610.5" stroke="#231f20" stroke-width="1" /><path d="M391.6 610.3L382.6 606.4L384.2 610.3L382.6 614.2Z" fill="#231f20"/><rect x="444.25" y="544.87" width="11.5" height="40.83" fill="#9d7aae" /><rect x="464.05" y="551.91" width="11.5" height="33.79" fill="#b5d9a2" /><line x1="450.5" y1="542.76" x2="450.5" y2="546.98" stroke="#4a1a5c" stroke-width="1" /><line x1="448" y1="542.5" x2="452" y2="542.5" stroke="#4a1a5c" stroke-width="1" /><line x1="448" y1="546.5" x2="452" y2="546.5" stroke="#4a1a5c" stroke-width="1" /><path d="M449.6 538.26L451.84 542.3L447.36 542.3Z" fill="#4a1a5c"/><path d="M445 543.54L447.24 547.58L442.76 547.58Z" fill="#4a1a5c"/><path d="M454.2 543.54L456.44 547.58L451.96 547.58Z" fill="#4a1a5c"/><line x1="469.5" y1="550.5" x2="469.5" y2="553.32" stroke="#3aa53a" stroke-width="1" /><line x1="467.8" y1="550.5" x2="471.8" y2="550.5" stroke="#3aa53a" stroke-width="1" /><line x1="467.8" y1="553.5" x2="471.8" y2="553.5" stroke="#3aa53a" stroke-width="1" /><rect x="464.01" y="547.44" width="3.58" height="3.58" fill="#3aa53a" /><rect x="467.41" y="550.89" width="3.58" height="3.58" fill="#3aa53a" /><rect x="472.01" y="552.02" width="3.58" height="3.58" fill="#3aa53a" /><rect x="464.01" y="552.02" width="3.58" height="3.58" fill="#3aa53a" /><line x1="436.5" y1="512.5" x2="436.5" y2="586.15" stroke="#231f20" stroke-width="1" /><line x1="435.75" y1="585.5" x2="483" y2="585.5" stroke="#231f20" stroke-width="1" /><line x1="433.2" y1="585.5" x2="436.2" y2="585.5" stroke="#231f20" stroke-width="1" /><text x="431.2" y="588.65" font-size="8.2" text-anchor="end">0</text><line x1="433.2" y1="571.5" x2="436.2" y2="571.5" stroke="#231f20" stroke-width="1" /><text x="431.2" y="574.57" font-size="8.2" text-anchor="end">20</text><line x1="433.2" y1="557.5" x2="436.2" y2="557.5" stroke="#231f20" stroke-width="1" /><text x="431.2" y="560.49" font-size="8.2" text-anchor="end">40</text><line x1="433.2" y1="543.5" x2="436.2" y2="543.5" stroke="#231f20" stroke-width="1" /><text x="431.2" y="546.41" font-size="8.2" text-anchor="end">60</text><line x1="433.2" y1="529.5" x2="436.2" y2="529.5" stroke="#231f20" stroke-width="1" /><text x="431.2" y="532.33" font-size="8.2" text-anchor="end">80</text><line x1="433.2" y1="515.5" x2="436.2" y2="515.5" stroke="#231f20" stroke-width="1" /><text x="431.2" y="518.25" font-size="8.2" text-anchor="end">100</text><line x1="450.5" y1="585.7" x2="450.5" y2="588.1" stroke="#231f20" stroke-width="1" /><line x1="469.5" y1="585.7" x2="469.5" y2="588.1" stroke="#231f20" stroke-width="1" /><line x1="449.6" y1="530.5" x2="470.4" y2="530.5" stroke="#3a3a3a" stroke-width="1" /><circle cx="453" cy="526.4" r="1.2" fill="#2a2a2a"/><text transform="translate(409.7 550.3) rotate(-90)" x="0" y="2.44" font-size="8.7" text-anchor="middle" textLength="62.5" lengthAdjust="spacingAndGlyphs">% Apoptotic T cells</text><path d="M444.5 498.3L446.5 501.9L442.5 501.9Z" fill="#4a1a5c"/><text x="449" y="503.07" font-size="8.4" textLength="25.3" lengthAdjust="spacingAndGlyphs">Group I</text><rect x="442.04" y="508.94" width="3.52" height="3.52" fill="#3aa53a" /><text x="449" y="513.47" font-size="8.4" textLength="27.2" lengthAdjust="spacingAndGlyphs">Group II</text><rect x="0" y="1" width="520" height="1" fill="#dadada"/><rect x="1" y="0" width="1" height="623" fill="#dadada"/><rect x="518" y="0" width="1" height="623" fill="#c4c4c4"/><rect x="0" y="621" width="520" height="1" fill="#c4c4c4"/><rect x="0" y="0" width="520" height="1" fill="#5a5a5a"/><rect x="0" y="0" width="1" height="623" fill="#585858"/><rect x="519" y="0" width="1" height="623" fill="#363636"/><rect x="0" y="622" width="520" height="1" fill="#303030"/></svg>
</body></html>
